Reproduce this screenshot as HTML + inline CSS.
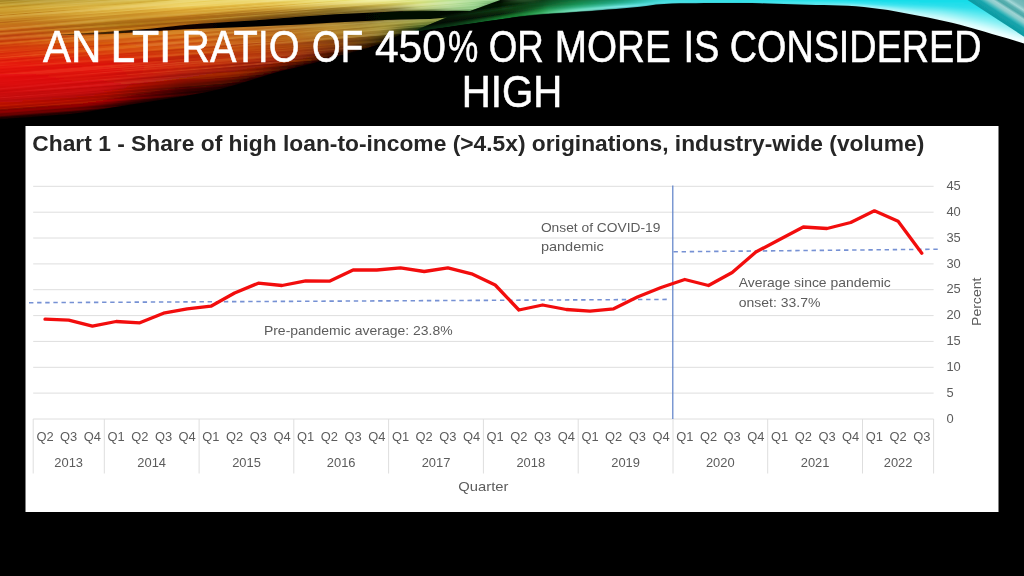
<!DOCTYPE html>
<html lang="en"><head><meta charset="utf-8"><title>An LTI ratio of 450% or more is considered high</title>
<style>
html,body{margin:0;padding:0;background:#000;}
body{width:1024px;height:576px;overflow:hidden;position:relative;font-family:"Liberation Sans",sans-serif;}
svg{position:absolute;left:0;top:0;display:block}
text{font-family:"Liberation Sans",sans-serif;}
.ax{font-size:12.9px;fill:#5c5c5c}
.ann{font-size:13px;fill:#5c5c5c}
</style></head><body>
<svg width="1024" height="576" viewBox="0 0 1024 576">
<!--BG-->
<rect x="0" y="0" width="1024" height="576" fill="#000"/>
<!--SWOOSH-->
<defs>
<linearGradient id="s0" gradientUnits="userSpaceOnUse" x1="0" y1="0" x2="0" y2="119.3"><stop offset="0.000" stop-color="#a88a28"/><stop offset="0.059" stop-color="#cea431"/><stop offset="0.118" stop-color="#cb962a"/><stop offset="0.176" stop-color="#c88422"/><stop offset="0.235" stop-color="#c86e1a"/><stop offset="0.294" stop-color="#ca5b14"/><stop offset="0.353" stop-color="#d04b10"/><stop offset="0.412" stop-color="#d93d10"/><stop offset="0.471" stop-color="#e03010"/><stop offset="0.529" stop-color="#e61e0a"/><stop offset="0.588" stop-color="#e61408"/><stop offset="0.647" stop-color="#e21008"/><stop offset="0.706" stop-color="#dc1008"/><stop offset="0.765" stop-color="#d21008"/><stop offset="0.824" stop-color="#c60f07"/><stop offset="0.882" stop-color="#b60c06"/><stop offset="0.941" stop-color="#8e0404"/><stop offset="1.000" stop-color="#100000"/></linearGradient>
<linearGradient id="s1" gradientUnits="userSpaceOnUse" x1="0" y1="0" x2="0" y2="119.3"><stop offset="0.000" stop-color="#a88a28"/><stop offset="0.059" stop-color="#cea431"/><stop offset="0.118" stop-color="#cb962a"/><stop offset="0.176" stop-color="#c88422"/><stop offset="0.235" stop-color="#c86e1a"/><stop offset="0.294" stop-color="#ca5b14"/><stop offset="0.353" stop-color="#d04b10"/><stop offset="0.412" stop-color="#d93d10"/><stop offset="0.471" stop-color="#e03010"/><stop offset="0.529" stop-color="#e61e0a"/><stop offset="0.588" stop-color="#e61408"/><stop offset="0.647" stop-color="#e21008"/><stop offset="0.706" stop-color="#dc1008"/><stop offset="0.765" stop-color="#d21008"/><stop offset="0.824" stop-color="#c60f07"/><stop offset="0.882" stop-color="#b60c06"/><stop offset="0.941" stop-color="#8e0404"/><stop offset="1.000" stop-color="#100000"/></linearGradient>
<linearGradient id="s2" gradientUnits="userSpaceOnUse" x1="0" y1="0" x2="0" y2="119.3"><stop offset="0.000" stop-color="#a88a28"/><stop offset="0.059" stop-color="#cea431"/><stop offset="0.118" stop-color="#cb962a"/><stop offset="0.176" stop-color="#c88422"/><stop offset="0.235" stop-color="#c86e1a"/><stop offset="0.294" stop-color="#ca5b14"/><stop offset="0.353" stop-color="#d04b10"/><stop offset="0.412" stop-color="#d93d10"/><stop offset="0.471" stop-color="#e03010"/><stop offset="0.529" stop-color="#e61e0a"/><stop offset="0.588" stop-color="#e61408"/><stop offset="0.647" stop-color="#e21008"/><stop offset="0.706" stop-color="#dc1008"/><stop offset="0.765" stop-color="#d21008"/><stop offset="0.824" stop-color="#c60f07"/><stop offset="0.882" stop-color="#b60c06"/><stop offset="0.941" stop-color="#8e0404"/><stop offset="1.000" stop-color="#100000"/></linearGradient>
<linearGradient id="s3" gradientUnits="userSpaceOnUse" x1="0" y1="0" x2="0" y2="119.3"><stop offset="0.000" stop-color="#a88a28"/><stop offset="0.059" stop-color="#cea431"/><stop offset="0.118" stop-color="#cb962a"/><stop offset="0.176" stop-color="#c88422"/><stop offset="0.235" stop-color="#c86e1a"/><stop offset="0.294" stop-color="#ca5b14"/><stop offset="0.353" stop-color="#d04b10"/><stop offset="0.412" stop-color="#d93d10"/><stop offset="0.471" stop-color="#e03010"/><stop offset="0.529" stop-color="#e61e0a"/><stop offset="0.588" stop-color="#e61408"/><stop offset="0.647" stop-color="#e21008"/><stop offset="0.706" stop-color="#dc1008"/><stop offset="0.765" stop-color="#d21008"/><stop offset="0.824" stop-color="#c60f07"/><stop offset="0.882" stop-color="#b60c06"/><stop offset="0.941" stop-color="#8e0404"/><stop offset="1.000" stop-color="#100000"/></linearGradient>
<linearGradient id="s4" gradientUnits="userSpaceOnUse" x1="0" y1="0" x2="0" y2="119.0"><stop offset="0.000" stop-color="#a88a28"/><stop offset="0.059" stop-color="#cea431"/><stop offset="0.118" stop-color="#cb962a"/><stop offset="0.176" stop-color="#c88422"/><stop offset="0.235" stop-color="#c86e1a"/><stop offset="0.294" stop-color="#ca5b14"/><stop offset="0.353" stop-color="#d04b10"/><stop offset="0.412" stop-color="#d93d10"/><stop offset="0.471" stop-color="#e03010"/><stop offset="0.529" stop-color="#e61e0a"/><stop offset="0.588" stop-color="#e61408"/><stop offset="0.647" stop-color="#e21008"/><stop offset="0.706" stop-color="#dc1008"/><stop offset="0.765" stop-color="#d21008"/><stop offset="0.824" stop-color="#c60f07"/><stop offset="0.882" stop-color="#b60c06"/><stop offset="0.941" stop-color="#8e0404"/><stop offset="1.000" stop-color="#100000"/></linearGradient>
<linearGradient id="s5" gradientUnits="userSpaceOnUse" x1="0" y1="0" x2="0" y2="118.4"><stop offset="0.000" stop-color="#a88a28"/><stop offset="0.059" stop-color="#cea431"/><stop offset="0.118" stop-color="#cb962a"/><stop offset="0.176" stop-color="#c88422"/><stop offset="0.235" stop-color="#c86e1a"/><stop offset="0.294" stop-color="#ca5b14"/><stop offset="0.353" stop-color="#d04b10"/><stop offset="0.412" stop-color="#d93d10"/><stop offset="0.471" stop-color="#e03010"/><stop offset="0.529" stop-color="#e61e0a"/><stop offset="0.588" stop-color="#e61408"/><stop offset="0.647" stop-color="#e21008"/><stop offset="0.706" stop-color="#dc1008"/><stop offset="0.765" stop-color="#d21008"/><stop offset="0.824" stop-color="#c60f07"/><stop offset="0.882" stop-color="#b60c06"/><stop offset="0.941" stop-color="#8e0404"/><stop offset="1.000" stop-color="#100000"/></linearGradient>
<linearGradient id="s6" gradientUnits="userSpaceOnUse" x1="0" y1="0" x2="0" y2="117.8"><stop offset="0.000" stop-color="#a88a28"/><stop offset="0.059" stop-color="#cea431"/><stop offset="0.118" stop-color="#cb962a"/><stop offset="0.176" stop-color="#c88422"/><stop offset="0.235" stop-color="#c86e1a"/><stop offset="0.294" stop-color="#ca5b14"/><stop offset="0.353" stop-color="#d04b10"/><stop offset="0.412" stop-color="#d93d10"/><stop offset="0.471" stop-color="#e03010"/><stop offset="0.529" stop-color="#e61e0a"/><stop offset="0.588" stop-color="#e61408"/><stop offset="0.647" stop-color="#e21008"/><stop offset="0.706" stop-color="#dc1008"/><stop offset="0.765" stop-color="#d21008"/><stop offset="0.824" stop-color="#c60f07"/><stop offset="0.882" stop-color="#b60c06"/><stop offset="0.941" stop-color="#8e0404"/><stop offset="1.000" stop-color="#100000"/></linearGradient>
<linearGradient id="s7" gradientUnits="userSpaceOnUse" x1="0" y1="0" x2="0" y2="117.2"><stop offset="0.000" stop-color="#ab8d2a"/><stop offset="0.059" stop-color="#d0a634"/><stop offset="0.118" stop-color="#cc982c"/><stop offset="0.176" stop-color="#c88523"/><stop offset="0.235" stop-color="#c66f1a"/><stop offset="0.294" stop-color="#ca5e14"/><stop offset="0.353" stop-color="#d04e10"/><stop offset="0.412" stop-color="#d94010"/><stop offset="0.471" stop-color="#df3210"/><stop offset="0.529" stop-color="#e5200b"/><stop offset="0.588" stop-color="#e61408"/><stop offset="0.647" stop-color="#e21008"/><stop offset="0.706" stop-color="#dc1008"/><stop offset="0.765" stop-color="#d21008"/><stop offset="0.824" stop-color="#c60f07"/><stop offset="0.882" stop-color="#b60c06"/><stop offset="0.941" stop-color="#8e0404"/><stop offset="1.000" stop-color="#120000"/></linearGradient>
<linearGradient id="s8" gradientUnits="userSpaceOnUse" x1="0" y1="0" x2="0" y2="116.6"><stop offset="0.000" stop-color="#ae902b"/><stop offset="0.059" stop-color="#d2a936"/><stop offset="0.118" stop-color="#ce9a2e"/><stop offset="0.176" stop-color="#c98724"/><stop offset="0.235" stop-color="#c5711a"/><stop offset="0.294" stop-color="#ca6014"/><stop offset="0.353" stop-color="#d15111"/><stop offset="0.412" stop-color="#d94210"/><stop offset="0.471" stop-color="#df3410"/><stop offset="0.529" stop-color="#e5220b"/><stop offset="0.588" stop-color="#e51508"/><stop offset="0.647" stop-color="#e21108"/><stop offset="0.706" stop-color="#dc1008"/><stop offset="0.765" stop-color="#d21008"/><stop offset="0.824" stop-color="#c60f07"/><stop offset="0.882" stop-color="#b60c06"/><stop offset="0.941" stop-color="#8e0404"/><stop offset="1.000" stop-color="#130000"/></linearGradient>
<linearGradient id="s9" gradientUnits="userSpaceOnUse" x1="0" y1="0" x2="0" y2="116.0"><stop offset="0.000" stop-color="#b1922d"/><stop offset="0.059" stop-color="#d3ab39"/><stop offset="0.118" stop-color="#cf9d30"/><stop offset="0.176" stop-color="#c98925"/><stop offset="0.235" stop-color="#c3721b"/><stop offset="0.294" stop-color="#c96315"/><stop offset="0.353" stop-color="#d15311"/><stop offset="0.412" stop-color="#d94410"/><stop offset="0.471" stop-color="#de3610"/><stop offset="0.529" stop-color="#e4230c"/><stop offset="0.588" stop-color="#e51608"/><stop offset="0.647" stop-color="#e21108"/><stop offset="0.706" stop-color="#dc1108"/><stop offset="0.765" stop-color="#d21008"/><stop offset="0.824" stop-color="#c50f07"/><stop offset="0.882" stop-color="#b60c06"/><stop offset="0.941" stop-color="#8e0404"/><stop offset="1.000" stop-color="#150000"/></linearGradient>
<linearGradient id="s10" gradientUnits="userSpaceOnUse" x1="0" y1="0" x2="0" y2="115.4"><stop offset="0.000" stop-color="#b4952e"/><stop offset="0.059" stop-color="#d5ad3b"/><stop offset="0.118" stop-color="#d19f32"/><stop offset="0.176" stop-color="#ca8b26"/><stop offset="0.235" stop-color="#c1741b"/><stop offset="0.294" stop-color="#c96615"/><stop offset="0.353" stop-color="#d25611"/><stop offset="0.412" stop-color="#d94710"/><stop offset="0.471" stop-color="#dd3810"/><stop offset="0.529" stop-color="#e4250c"/><stop offset="0.588" stop-color="#e51709"/><stop offset="0.647" stop-color="#e11208"/><stop offset="0.706" stop-color="#dc1108"/><stop offset="0.765" stop-color="#d21008"/><stop offset="0.824" stop-color="#c50e07"/><stop offset="0.882" stop-color="#b50b06"/><stop offset="0.941" stop-color="#8e0404"/><stop offset="1.000" stop-color="#160000"/></linearGradient>
<linearGradient id="s11" gradientUnits="userSpaceOnUse" x1="0" y1="0" x2="0" y2="114.8"><stop offset="0.000" stop-color="#b79830"/><stop offset="0.059" stop-color="#d7b03e"/><stop offset="0.118" stop-color="#d3a134"/><stop offset="0.176" stop-color="#ca8c27"/><stop offset="0.235" stop-color="#bf751b"/><stop offset="0.294" stop-color="#c96916"/><stop offset="0.353" stop-color="#d25911"/><stop offset="0.412" stop-color="#d94910"/><stop offset="0.471" stop-color="#dd3910"/><stop offset="0.529" stop-color="#e3270d"/><stop offset="0.588" stop-color="#e51809"/><stop offset="0.647" stop-color="#e11208"/><stop offset="0.706" stop-color="#db1108"/><stop offset="0.765" stop-color="#d21008"/><stop offset="0.824" stop-color="#c50e07"/><stop offset="0.882" stop-color="#b50b06"/><stop offset="0.941" stop-color="#8e0404"/><stop offset="1.000" stop-color="#180000"/></linearGradient>
<linearGradient id="s12" gradientUnits="userSpaceOnUse" x1="0" y1="0" x2="0" y2="114.0"><stop offset="0.000" stop-color="#ba9b31"/><stop offset="0.059" stop-color="#d8b240"/><stop offset="0.118" stop-color="#d4a435"/><stop offset="0.176" stop-color="#ca8e28"/><stop offset="0.235" stop-color="#be771b"/><stop offset="0.294" stop-color="#c96b16"/><stop offset="0.353" stop-color="#d35c12"/><stop offset="0.412" stop-color="#d94c10"/><stop offset="0.471" stop-color="#dc3b10"/><stop offset="0.529" stop-color="#e3280d"/><stop offset="0.588" stop-color="#e41809"/><stop offset="0.647" stop-color="#e11308"/><stop offset="0.706" stop-color="#db1108"/><stop offset="0.765" stop-color="#d11008"/><stop offset="0.824" stop-color="#c50e07"/><stop offset="0.882" stop-color="#b50b06"/><stop offset="0.941" stop-color="#8e0404"/><stop offset="1.000" stop-color="#190000"/></linearGradient>
<linearGradient id="s13" gradientUnits="userSpaceOnUse" x1="0" y1="0" x2="0" y2="113.2"><stop offset="0.000" stop-color="#bd9e33"/><stop offset="0.059" stop-color="#dab443"/><stop offset="0.118" stop-color="#d6a637"/><stop offset="0.176" stop-color="#cb9029"/><stop offset="0.235" stop-color="#bc781b"/><stop offset="0.294" stop-color="#c86e16"/><stop offset="0.353" stop-color="#d35f12"/><stop offset="0.412" stop-color="#d84e10"/><stop offset="0.471" stop-color="#dc3d10"/><stop offset="0.529" stop-color="#e22a0e"/><stop offset="0.588" stop-color="#e41909"/><stop offset="0.647" stop-color="#e11308"/><stop offset="0.706" stop-color="#db1208"/><stop offset="0.765" stop-color="#d11008"/><stop offset="0.824" stop-color="#c50e07"/><stop offset="0.882" stop-color="#b40b06"/><stop offset="0.941" stop-color="#8e0404"/><stop offset="1.000" stop-color="#1b0000"/></linearGradient>
<linearGradient id="s14" gradientUnits="userSpaceOnUse" x1="0" y1="0" x2="0" y2="112.3"><stop offset="0.000" stop-color="#c0a134"/><stop offset="0.059" stop-color="#dcb646"/><stop offset="0.118" stop-color="#d7a839"/><stop offset="0.176" stop-color="#cb922a"/><stop offset="0.235" stop-color="#ba7a1b"/><stop offset="0.294" stop-color="#c87117"/><stop offset="0.353" stop-color="#d46212"/><stop offset="0.412" stop-color="#d85010"/><stop offset="0.471" stop-color="#db3f10"/><stop offset="0.529" stop-color="#e12c0f"/><stop offset="0.588" stop-color="#e41a09"/><stop offset="0.647" stop-color="#e11408"/><stop offset="0.706" stop-color="#db1208"/><stop offset="0.765" stop-color="#d11008"/><stop offset="0.824" stop-color="#c40e07"/><stop offset="0.882" stop-color="#b40b06"/><stop offset="0.941" stop-color="#8e0404"/><stop offset="1.000" stop-color="#1c0000"/></linearGradient>
<linearGradient id="s15" gradientUnits="userSpaceOnUse" x1="0" y1="0" x2="0" y2="111.0"><stop offset="0.000" stop-color="#c3a336"/><stop offset="0.059" stop-color="#ddb948"/><stop offset="0.118" stop-color="#d9aa3b"/><stop offset="0.176" stop-color="#cc942b"/><stop offset="0.235" stop-color="#b97b1c"/><stop offset="0.294" stop-color="#c87417"/><stop offset="0.353" stop-color="#d46513"/><stop offset="0.412" stop-color="#d85310"/><stop offset="0.471" stop-color="#da4110"/><stop offset="0.529" stop-color="#e12d0f"/><stop offset="0.588" stop-color="#e41b09"/><stop offset="0.647" stop-color="#e11408"/><stop offset="0.706" stop-color="#db1208"/><stop offset="0.765" stop-color="#d11008"/><stop offset="0.824" stop-color="#c40e07"/><stop offset="0.882" stop-color="#b40b06"/><stop offset="0.941" stop-color="#8e0404"/><stop offset="1.000" stop-color="#1e0000"/></linearGradient>
<linearGradient id="s16" gradientUnits="userSpaceOnUse" x1="0" y1="0" x2="0" y2="109.6"><stop offset="0.000" stop-color="#c6a637"/><stop offset="0.059" stop-color="#dfbb4b"/><stop offset="0.118" stop-color="#daad3d"/><stop offset="0.176" stop-color="#cc952c"/><stop offset="0.235" stop-color="#b77d1c"/><stop offset="0.294" stop-color="#c87618"/><stop offset="0.353" stop-color="#d56713"/><stop offset="0.412" stop-color="#d85510"/><stop offset="0.471" stop-color="#da4310"/><stop offset="0.529" stop-color="#e02f10"/><stop offset="0.588" stop-color="#e31c09"/><stop offset="0.647" stop-color="#e11508"/><stop offset="0.706" stop-color="#da1208"/><stop offset="0.765" stop-color="#d11008"/><stop offset="0.824" stop-color="#c40e07"/><stop offset="0.882" stop-color="#b40b06"/><stop offset="0.941" stop-color="#8e0404"/><stop offset="1.000" stop-color="#1f0000"/></linearGradient>
<linearGradient id="s17" gradientUnits="userSpaceOnUse" x1="0" y1="0" x2="0" y2="108.3"><stop offset="0.000" stop-color="#c9aa3a"/><stop offset="0.059" stop-color="#e0bd4d"/><stop offset="0.118" stop-color="#dbae3e"/><stop offset="0.176" stop-color="#cc962c"/><stop offset="0.235" stop-color="#b57d1b"/><stop offset="0.294" stop-color="#c77818"/><stop offset="0.353" stop-color="#d56a13"/><stop offset="0.412" stop-color="#d85710"/><stop offset="0.471" stop-color="#d94510"/><stop offset="0.529" stop-color="#df3110"/><stop offset="0.588" stop-color="#e21d09"/><stop offset="0.647" stop-color="#e01608"/><stop offset="0.706" stop-color="#da1408"/><stop offset="0.765" stop-color="#d01108"/><stop offset="0.824" stop-color="#c20e07"/><stop offset="0.882" stop-color="#b10b06"/><stop offset="0.941" stop-color="#8b0404"/><stop offset="1.000" stop-color="#200000"/></linearGradient>
<linearGradient id="s18" gradientUnits="userSpaceOnUse" x1="0" y1="0" x2="0" y2="107.0"><stop offset="0.000" stop-color="#ccae3e"/><stop offset="0.059" stop-color="#e2bf4e"/><stop offset="0.118" stop-color="#dbae3d"/><stop offset="0.176" stop-color="#cb942b"/><stop offset="0.235" stop-color="#b47b1a"/><stop offset="0.294" stop-color="#c77718"/><stop offset="0.353" stop-color="#d56a14"/><stop offset="0.412" stop-color="#d85911"/><stop offset="0.471" stop-color="#d84710"/><stop offset="0.529" stop-color="#de3310"/><stop offset="0.588" stop-color="#e0200a"/><stop offset="0.647" stop-color="#de1808"/><stop offset="0.706" stop-color="#d91608"/><stop offset="0.765" stop-color="#cd1208"/><stop offset="0.824" stop-color="#bd0e07"/><stop offset="0.882" stop-color="#aa0b05"/><stop offset="0.941" stop-color="#840403"/><stop offset="1.000" stop-color="#1f0000"/></linearGradient>
<linearGradient id="s19" gradientUnits="userSpaceOnUse" x1="0" y1="0" x2="0" y2="105.7"><stop offset="0.000" stop-color="#d0b242"/><stop offset="0.059" stop-color="#e3c150"/><stop offset="0.118" stop-color="#dcae3d"/><stop offset="0.176" stop-color="#cb932a"/><stop offset="0.235" stop-color="#b37919"/><stop offset="0.294" stop-color="#c67618"/><stop offset="0.353" stop-color="#d46b14"/><stop offset="0.412" stop-color="#d75a11"/><stop offset="0.471" stop-color="#d74910"/><stop offset="0.529" stop-color="#dc3610"/><stop offset="0.588" stop-color="#de230a"/><stop offset="0.647" stop-color="#db1a08"/><stop offset="0.706" stop-color="#d71908"/><stop offset="0.765" stop-color="#ca1408"/><stop offset="0.824" stop-color="#b70f07"/><stop offset="0.882" stop-color="#a30a05"/><stop offset="0.941" stop-color="#7d0403"/><stop offset="1.000" stop-color="#1e0000"/></linearGradient>
<linearGradient id="s20" gradientUnits="userSpaceOnUse" x1="0" y1="0" x2="0" y2="104.4"><stop offset="0.000" stop-color="#d3b646"/><stop offset="0.059" stop-color="#e4c352"/><stop offset="0.118" stop-color="#dcad3c"/><stop offset="0.176" stop-color="#ca9229"/><stop offset="0.235" stop-color="#b27718"/><stop offset="0.294" stop-color="#c67517"/><stop offset="0.353" stop-color="#d46c15"/><stop offset="0.412" stop-color="#d75c12"/><stop offset="0.471" stop-color="#d74b11"/><stop offset="0.529" stop-color="#da380f"/><stop offset="0.588" stop-color="#db260a"/><stop offset="0.647" stop-color="#d91c08"/><stop offset="0.706" stop-color="#d61c08"/><stop offset="0.765" stop-color="#c71508"/><stop offset="0.824" stop-color="#b20f06"/><stop offset="0.882" stop-color="#9c0a05"/><stop offset="0.941" stop-color="#760403"/><stop offset="1.000" stop-color="#1d0000"/></linearGradient>
<linearGradient id="s21" gradientUnits="userSpaceOnUse" x1="0" y1="0" x2="0" y2="103.1"><stop offset="0.000" stop-color="#d6ba4a"/><stop offset="0.059" stop-color="#e6c453"/><stop offset="0.118" stop-color="#dcad3c"/><stop offset="0.176" stop-color="#ca9029"/><stop offset="0.235" stop-color="#b17517"/><stop offset="0.294" stop-color="#c57417"/><stop offset="0.353" stop-color="#d46c15"/><stop offset="0.412" stop-color="#d75e12"/><stop offset="0.471" stop-color="#d64d11"/><stop offset="0.529" stop-color="#d83b0f"/><stop offset="0.588" stop-color="#d9280a"/><stop offset="0.647" stop-color="#d61e08"/><stop offset="0.706" stop-color="#d51f08"/><stop offset="0.765" stop-color="#c31608"/><stop offset="0.824" stop-color="#ad0f06"/><stop offset="0.882" stop-color="#950a04"/><stop offset="0.941" stop-color="#6f0302"/><stop offset="1.000" stop-color="#1c0000"/></linearGradient>
<linearGradient id="s22" gradientUnits="userSpaceOnUse" x1="0" y1="0" x2="0" y2="101.9"><stop offset="0.000" stop-color="#d9be4e"/><stop offset="0.059" stop-color="#e7c655"/><stop offset="0.118" stop-color="#ddad3b"/><stop offset="0.176" stop-color="#c98f28"/><stop offset="0.235" stop-color="#b07216"/><stop offset="0.294" stop-color="#c47317"/><stop offset="0.353" stop-color="#d46d16"/><stop offset="0.412" stop-color="#d75f13"/><stop offset="0.471" stop-color="#d54f11"/><stop offset="0.529" stop-color="#d73d0f"/><stop offset="0.588" stop-color="#d62b0a"/><stop offset="0.647" stop-color="#d42008"/><stop offset="0.706" stop-color="#d42208"/><stop offset="0.765" stop-color="#c01808"/><stop offset="0.824" stop-color="#a70f06"/><stop offset="0.882" stop-color="#8e0a04"/><stop offset="0.941" stop-color="#680302"/><stop offset="1.000" stop-color="#1c0000"/></linearGradient>
<linearGradient id="s23" gradientUnits="userSpaceOnUse" x1="0" y1="0" x2="0" y2="100.7"><stop offset="0.000" stop-color="#dcc252"/><stop offset="0.059" stop-color="#e8c856"/><stop offset="0.118" stop-color="#ddad3b"/><stop offset="0.176" stop-color="#c88d27"/><stop offset="0.235" stop-color="#ae7015"/><stop offset="0.294" stop-color="#c47217"/><stop offset="0.353" stop-color="#d36e16"/><stop offset="0.412" stop-color="#d66114"/><stop offset="0.471" stop-color="#d55111"/><stop offset="0.529" stop-color="#d53f0f"/><stop offset="0.588" stop-color="#d42e0b"/><stop offset="0.647" stop-color="#d12208"/><stop offset="0.706" stop-color="#d32408"/><stop offset="0.765" stop-color="#bd1908"/><stop offset="0.824" stop-color="#a21006"/><stop offset="0.882" stop-color="#870903"/><stop offset="0.941" stop-color="#610301"/><stop offset="1.000" stop-color="#1b0000"/></linearGradient>
<linearGradient id="s24" gradientUnits="userSpaceOnUse" x1="0" y1="0" x2="0" y2="99.5"><stop offset="0.000" stop-color="#e0c656"/><stop offset="0.059" stop-color="#eaca58"/><stop offset="0.118" stop-color="#ddad3a"/><stop offset="0.176" stop-color="#c88c26"/><stop offset="0.235" stop-color="#ad6e14"/><stop offset="0.294" stop-color="#c37117"/><stop offset="0.353" stop-color="#d36e17"/><stop offset="0.412" stop-color="#d66214"/><stop offset="0.471" stop-color="#d45311"/><stop offset="0.529" stop-color="#d3420f"/><stop offset="0.588" stop-color="#d2310b"/><stop offset="0.647" stop-color="#cf2408"/><stop offset="0.706" stop-color="#d22708"/><stop offset="0.765" stop-color="#ba1a08"/><stop offset="0.824" stop-color="#9d1006"/><stop offset="0.882" stop-color="#800903"/><stop offset="0.941" stop-color="#5a0301"/><stop offset="1.000" stop-color="#1a0000"/></linearGradient>
<linearGradient id="s25" gradientUnits="userSpaceOnUse" x1="0" y1="0" x2="0" y2="98.2"><stop offset="0.000" stop-color="#e3ca5a"/><stop offset="0.059" stop-color="#ebcc59"/><stop offset="0.118" stop-color="#dead3a"/><stop offset="0.176" stop-color="#c78a25"/><stop offset="0.235" stop-color="#ac6c12"/><stop offset="0.294" stop-color="#c37017"/><stop offset="0.353" stop-color="#d36f17"/><stop offset="0.412" stop-color="#d66415"/><stop offset="0.471" stop-color="#d35412"/><stop offset="0.529" stop-color="#d1440f"/><stop offset="0.588" stop-color="#cf340b"/><stop offset="0.647" stop-color="#cc2608"/><stop offset="0.706" stop-color="#d02a08"/><stop offset="0.765" stop-color="#b71c08"/><stop offset="0.824" stop-color="#981006"/><stop offset="0.882" stop-color="#790903"/><stop offset="0.941" stop-color="#530301"/><stop offset="1.000" stop-color="#190000"/></linearGradient>
<linearGradient id="s26" gradientUnits="userSpaceOnUse" x1="0" y1="0" x2="0" y2="96.9"><stop offset="0.000" stop-color="#e6ce5e"/><stop offset="0.059" stop-color="#ecce5b"/><stop offset="0.118" stop-color="#deac3a"/><stop offset="0.176" stop-color="#c68924"/><stop offset="0.235" stop-color="#ab6a11"/><stop offset="0.294" stop-color="#c26f17"/><stop offset="0.353" stop-color="#d37018"/><stop offset="0.412" stop-color="#d66615"/><stop offset="0.471" stop-color="#d25612"/><stop offset="0.529" stop-color="#d0470f"/><stop offset="0.588" stop-color="#cd370b"/><stop offset="0.647" stop-color="#ca2808"/><stop offset="0.706" stop-color="#cf2d08"/><stop offset="0.765" stop-color="#b41d08"/><stop offset="0.824" stop-color="#921006"/><stop offset="0.882" stop-color="#720802"/><stop offset="0.941" stop-color="#4c0300"/><stop offset="1.000" stop-color="#180000"/></linearGradient>
<linearGradient id="s27" gradientUnits="userSpaceOnUse" x1="0" y1="0" x2="0" y2="95.5"><stop offset="0.000" stop-color="#e8d161"/><stop offset="0.059" stop-color="#edcf5c"/><stop offset="0.118" stop-color="#deac39"/><stop offset="0.176" stop-color="#c58724"/><stop offset="0.235" stop-color="#a96811"/><stop offset="0.294" stop-color="#c06e17"/><stop offset="0.353" stop-color="#d27019"/><stop offset="0.412" stop-color="#d56716"/><stop offset="0.471" stop-color="#d15812"/><stop offset="0.529" stop-color="#ce490f"/><stop offset="0.588" stop-color="#cb3a0c"/><stop offset="0.647" stop-color="#c82a08"/><stop offset="0.706" stop-color="#cd2f08"/><stop offset="0.765" stop-color="#b21f08"/><stop offset="0.824" stop-color="#901106"/><stop offset="0.882" stop-color="#6f0902"/><stop offset="0.941" stop-color="#480300"/><stop offset="1.000" stop-color="#180000"/></linearGradient>
<linearGradient id="s28" gradientUnits="userSpaceOnUse" x1="0" y1="0" x2="0" y2="94.0"><stop offset="0.000" stop-color="#e9d264"/><stop offset="0.059" stop-color="#ecce5c"/><stop offset="0.118" stop-color="#ddab39"/><stop offset="0.176" stop-color="#c38624"/><stop offset="0.235" stop-color="#a46611"/><stop offset="0.294" stop-color="#bd6e17"/><stop offset="0.353" stop-color="#cf711a"/><stop offset="0.412" stop-color="#d36918"/><stop offset="0.471" stop-color="#d05b13"/><stop offset="0.529" stop-color="#cc4c0f"/><stop offset="0.588" stop-color="#c93c0c"/><stop offset="0.647" stop-color="#c62d09"/><stop offset="0.706" stop-color="#cb3008"/><stop offset="0.765" stop-color="#b22108"/><stop offset="0.824" stop-color="#921406"/><stop offset="0.882" stop-color="#720b03"/><stop offset="0.941" stop-color="#4b0500"/><stop offset="1.000" stop-color="#190000"/></linearGradient>
<linearGradient id="s29" gradientUnits="userSpaceOnUse" x1="0" y1="0" x2="0" y2="92.5"><stop offset="0.000" stop-color="#ead367"/><stop offset="0.059" stop-color="#ecce5b"/><stop offset="0.118" stop-color="#dbab39"/><stop offset="0.176" stop-color="#c08524"/><stop offset="0.235" stop-color="#a06411"/><stop offset="0.294" stop-color="#b96d18"/><stop offset="0.353" stop-color="#cd721c"/><stop offset="0.412" stop-color="#d16b1a"/><stop offset="0.471" stop-color="#ce5d15"/><stop offset="0.529" stop-color="#cb4e10"/><stop offset="0.588" stop-color="#c83f0d"/><stop offset="0.647" stop-color="#c4300a"/><stop offset="0.706" stop-color="#c93209"/><stop offset="0.765" stop-color="#b12208"/><stop offset="0.824" stop-color="#951606"/><stop offset="0.882" stop-color="#750d03"/><stop offset="0.941" stop-color="#4d0601"/><stop offset="1.000" stop-color="#1a0000"/></linearGradient>
<linearGradient id="s30" gradientUnits="userSpaceOnUse" x1="0" y1="0" x2="0" y2="90.8"><stop offset="0.000" stop-color="#ead56a"/><stop offset="0.059" stop-color="#eccd5b"/><stop offset="0.118" stop-color="#daaa39"/><stop offset="0.176" stop-color="#be8424"/><stop offset="0.235" stop-color="#9c6211"/><stop offset="0.294" stop-color="#b66d19"/><stop offset="0.353" stop-color="#ca731e"/><stop offset="0.412" stop-color="#cf6d1c"/><stop offset="0.471" stop-color="#cd5f16"/><stop offset="0.529" stop-color="#ca5111"/><stop offset="0.588" stop-color="#c6420d"/><stop offset="0.647" stop-color="#c3330a"/><stop offset="0.706" stop-color="#c63309"/><stop offset="0.765" stop-color="#b12408"/><stop offset="0.824" stop-color="#971906"/><stop offset="0.882" stop-color="#780f03"/><stop offset="0.941" stop-color="#500701"/><stop offset="1.000" stop-color="#1a0000"/></linearGradient>
<linearGradient id="s31" gradientUnits="userSpaceOnUse" x1="0" y1="0" x2="0" y2="89.0"><stop offset="0.000" stop-color="#ebd66c"/><stop offset="0.059" stop-color="#ebcd5b"/><stop offset="0.118" stop-color="#d9a939"/><stop offset="0.176" stop-color="#bb8324"/><stop offset="0.235" stop-color="#986011"/><stop offset="0.294" stop-color="#b26c1a"/><stop offset="0.353" stop-color="#c8741f"/><stop offset="0.412" stop-color="#cd6f1e"/><stop offset="0.471" stop-color="#cb6217"/><stop offset="0.529" stop-color="#c85411"/><stop offset="0.588" stop-color="#c5450e"/><stop offset="0.647" stop-color="#c1360b"/><stop offset="0.706" stop-color="#c43409"/><stop offset="0.765" stop-color="#b12608"/><stop offset="0.824" stop-color="#9a1b06"/><stop offset="0.882" stop-color="#7b1104"/><stop offset="0.941" stop-color="#520801"/><stop offset="1.000" stop-color="#1b0000"/></linearGradient>
<linearGradient id="s32" gradientUnits="userSpaceOnUse" x1="0" y1="0" x2="0" y2="86.9"><stop offset="0.000" stop-color="#ecd86f"/><stop offset="0.059" stop-color="#ebcc5b"/><stop offset="0.118" stop-color="#d8a839"/><stop offset="0.176" stop-color="#b98224"/><stop offset="0.235" stop-color="#945e11"/><stop offset="0.294" stop-color="#af6b1a"/><stop offset="0.353" stop-color="#c57521"/><stop offset="0.412" stop-color="#cb7120"/><stop offset="0.471" stop-color="#c96418"/><stop offset="0.529" stop-color="#c75612"/><stop offset="0.588" stop-color="#c3480f"/><stop offset="0.647" stop-color="#c0390b"/><stop offset="0.706" stop-color="#c13609"/><stop offset="0.765" stop-color="#b12808"/><stop offset="0.824" stop-color="#9c1d07"/><stop offset="0.882" stop-color="#7f1404"/><stop offset="0.941" stop-color="#550a02"/><stop offset="1.000" stop-color="#1c0000"/></linearGradient>
<linearGradient id="s33" gradientUnits="userSpaceOnUse" x1="0" y1="0" x2="0" y2="84.7"><stop offset="0.000" stop-color="#edd972"/><stop offset="0.059" stop-color="#eacc5a"/><stop offset="0.118" stop-color="#d7a839"/><stop offset="0.176" stop-color="#b78024"/><stop offset="0.235" stop-color="#905c11"/><stop offset="0.294" stop-color="#ab6b1b"/><stop offset="0.353" stop-color="#c27623"/><stop offset="0.412" stop-color="#c97322"/><stop offset="0.471" stop-color="#c86619"/><stop offset="0.529" stop-color="#c55913"/><stop offset="0.588" stop-color="#c24a0f"/><stop offset="0.647" stop-color="#be3c0c"/><stop offset="0.706" stop-color="#bf370a"/><stop offset="0.765" stop-color="#b02a08"/><stop offset="0.824" stop-color="#9e2007"/><stop offset="0.882" stop-color="#821605"/><stop offset="0.941" stop-color="#570b02"/><stop offset="1.000" stop-color="#1d0000"/></linearGradient>
<linearGradient id="s34" gradientUnits="userSpaceOnUse" x1="0" y1="0" x2="0" y2="82.2"><stop offset="0.000" stop-color="#edda75"/><stop offset="0.059" stop-color="#eacb5a"/><stop offset="0.118" stop-color="#d5a739"/><stop offset="0.176" stop-color="#b47f24"/><stop offset="0.235" stop-color="#8c5a11"/><stop offset="0.294" stop-color="#a76a1c"/><stop offset="0.353" stop-color="#c07724"/><stop offset="0.412" stop-color="#c77524"/><stop offset="0.471" stop-color="#c6681a"/><stop offset="0.529" stop-color="#c45b13"/><stop offset="0.588" stop-color="#c04d10"/><stop offset="0.647" stop-color="#bd3f0c"/><stop offset="0.706" stop-color="#bc390a"/><stop offset="0.765" stop-color="#b02b08"/><stop offset="0.824" stop-color="#a12207"/><stop offset="0.882" stop-color="#851805"/><stop offset="0.941" stop-color="#5a0c02"/><stop offset="1.000" stop-color="#1d0000"/></linearGradient>
<linearGradient id="s35" gradientUnits="userSpaceOnUse" x1="0" y1="0" x2="0" y2="79.7"><stop offset="0.000" stop-color="#eedc78"/><stop offset="0.059" stop-color="#eaca5a"/><stop offset="0.118" stop-color="#d4a639"/><stop offset="0.176" stop-color="#b27e24"/><stop offset="0.235" stop-color="#885911"/><stop offset="0.294" stop-color="#a46a1c"/><stop offset="0.353" stop-color="#bd7826"/><stop offset="0.412" stop-color="#c67726"/><stop offset="0.471" stop-color="#c56b1b"/><stop offset="0.529" stop-color="#c25e14"/><stop offset="0.588" stop-color="#bf5011"/><stop offset="0.647" stop-color="#bb420d"/><stop offset="0.706" stop-color="#ba3a0a"/><stop offset="0.765" stop-color="#b02d08"/><stop offset="0.824" stop-color="#a32407"/><stop offset="0.882" stop-color="#881a05"/><stop offset="0.941" stop-color="#5c0d03"/><stop offset="1.000" stop-color="#1e0000"/></linearGradient>
<linearGradient id="s36" gradientUnits="userSpaceOnUse" x1="0" y1="0" x2="0" y2="77.2"><stop offset="0.000" stop-color="#efdd7b"/><stop offset="0.059" stop-color="#e9ca59"/><stop offset="0.118" stop-color="#d3a539"/><stop offset="0.176" stop-color="#af7d24"/><stop offset="0.235" stop-color="#835711"/><stop offset="0.294" stop-color="#a0691d"/><stop offset="0.353" stop-color="#bb7928"/><stop offset="0.412" stop-color="#c47828"/><stop offset="0.471" stop-color="#c36d1c"/><stop offset="0.529" stop-color="#c16115"/><stop offset="0.588" stop-color="#bd5311"/><stop offset="0.647" stop-color="#ba450e"/><stop offset="0.706" stop-color="#b73b0a"/><stop offset="0.765" stop-color="#af2f08"/><stop offset="0.824" stop-color="#a62708"/><stop offset="0.882" stop-color="#8b1c06"/><stop offset="0.941" stop-color="#5f0e03"/><stop offset="1.000" stop-color="#1f0000"/></linearGradient>
<linearGradient id="s37" gradientUnits="userSpaceOnUse" x1="0" y1="0" x2="0" y2="74.6"><stop offset="0.000" stop-color="#efdf7e"/><stop offset="0.059" stop-color="#e9c959"/><stop offset="0.118" stop-color="#d2a539"/><stop offset="0.176" stop-color="#ad7c24"/><stop offset="0.235" stop-color="#7f5511"/><stop offset="0.294" stop-color="#9d691e"/><stop offset="0.353" stop-color="#b87a2a"/><stop offset="0.412" stop-color="#c27a2a"/><stop offset="0.471" stop-color="#c16f1d"/><stop offset="0.529" stop-color="#bf6316"/><stop offset="0.588" stop-color="#bc5612"/><stop offset="0.647" stop-color="#b8480e"/><stop offset="0.706" stop-color="#b53d0b"/><stop offset="0.765" stop-color="#af3108"/><stop offset="0.824" stop-color="#a82908"/><stop offset="0.882" stop-color="#8f1e06"/><stop offset="0.941" stop-color="#611003"/><stop offset="1.000" stop-color="#1f0000"/></linearGradient>
<linearGradient id="s38" gradientUnits="userSpaceOnUse" x1="0" y1="0" x2="0" y2="72.2"><stop offset="0.000" stop-color="#f0e080"/><stop offset="0.059" stop-color="#e8c959"/><stop offset="0.118" stop-color="#d1a439"/><stop offset="0.176" stop-color="#aa7b24"/><stop offset="0.235" stop-color="#7c5312"/><stop offset="0.294" stop-color="#99671e"/><stop offset="0.353" stop-color="#b57b2b"/><stop offset="0.412" stop-color="#c07c2b"/><stop offset="0.471" stop-color="#c0721f"/><stop offset="0.529" stop-color="#be6617"/><stop offset="0.588" stop-color="#ba5913"/><stop offset="0.647" stop-color="#b64c0f"/><stop offset="0.706" stop-color="#b23e0b"/><stop offset="0.765" stop-color="#ae3308"/><stop offset="0.824" stop-color="#a92b08"/><stop offset="0.882" stop-color="#912006"/><stop offset="0.941" stop-color="#631103"/><stop offset="1.000" stop-color="#200000"/></linearGradient>
<linearGradient id="s39" gradientUnits="userSpaceOnUse" x1="0" y1="0" x2="0" y2="70.2"><stop offset="0.000" stop-color="#f0e181"/><stop offset="0.059" stop-color="#e8cb5c"/><stop offset="0.118" stop-color="#d0a53b"/><stop offset="0.176" stop-color="#a77a25"/><stop offset="0.235" stop-color="#7a5413"/><stop offset="0.294" stop-color="#91621c"/><stop offset="0.353" stop-color="#ae7729"/><stop offset="0.412" stop-color="#bd7d2c"/><stop offset="0.471" stop-color="#bf7622"/><stop offset="0.529" stop-color="#bd6b1a"/><stop offset="0.588" stop-color="#b95e15"/><stop offset="0.647" stop-color="#b45011"/><stop offset="0.706" stop-color="#af420c"/><stop offset="0.765" stop-color="#aa3509"/><stop offset="0.824" stop-color="#a42d09"/><stop offset="0.882" stop-color="#8c2107"/><stop offset="0.941" stop-color="#601103"/><stop offset="1.000" stop-color="#1e0000"/></linearGradient>
<linearGradient id="s40" gradientUnits="userSpaceOnUse" x1="0" y1="0" x2="0" y2="68.4"><stop offset="0.000" stop-color="#f0e282"/><stop offset="0.059" stop-color="#e8cc5e"/><stop offset="0.118" stop-color="#cfa73e"/><stop offset="0.176" stop-color="#a37925"/><stop offset="0.235" stop-color="#795414"/><stop offset="0.294" stop-color="#8a5d1b"/><stop offset="0.353" stop-color="#a87327"/><stop offset="0.412" stop-color="#ba7e2c"/><stop offset="0.471" stop-color="#bf7b25"/><stop offset="0.529" stop-color="#bd711e"/><stop offset="0.588" stop-color="#b76318"/><stop offset="0.647" stop-color="#b25413"/><stop offset="0.706" stop-color="#ac450e"/><stop offset="0.765" stop-color="#a6380a"/><stop offset="0.824" stop-color="#9e2e09"/><stop offset="0.882" stop-color="#882207"/><stop offset="0.941" stop-color="#5d1103"/><stop offset="1.000" stop-color="#1b0000"/></linearGradient>
<linearGradient id="s41" gradientUnits="userSpaceOnUse" x1="0" y1="0" x2="0" y2="66.5"><stop offset="0.000" stop-color="#f0e383"/><stop offset="0.059" stop-color="#e7cd61"/><stop offset="0.118" stop-color="#cea840"/><stop offset="0.176" stop-color="#9f7825"/><stop offset="0.235" stop-color="#785515"/><stop offset="0.294" stop-color="#825819"/><stop offset="0.353" stop-color="#a17026"/><stop offset="0.412" stop-color="#b77f2c"/><stop offset="0.471" stop-color="#be8028"/><stop offset="0.529" stop-color="#bc7621"/><stop offset="0.588" stop-color="#b5681b"/><stop offset="0.647" stop-color="#af5815"/><stop offset="0.706" stop-color="#a9490f"/><stop offset="0.765" stop-color="#a23a0c"/><stop offset="0.824" stop-color="#99300a"/><stop offset="0.882" stop-color="#832307"/><stop offset="0.941" stop-color="#5a1202"/><stop offset="1.000" stop-color="#190000"/></linearGradient>
<linearGradient id="s42" gradientUnits="userSpaceOnUse" x1="0" y1="0" x2="0" y2="64.4"><stop offset="0.000" stop-color="#f0e484"/><stop offset="0.059" stop-color="#e7cf63"/><stop offset="0.118" stop-color="#cdaa42"/><stop offset="0.176" stop-color="#9c7826"/><stop offset="0.235" stop-color="#775516"/><stop offset="0.294" stop-color="#7b5317"/><stop offset="0.353" stop-color="#9a6c24"/><stop offset="0.412" stop-color="#b4802d"/><stop offset="0.471" stop-color="#be842b"/><stop offset="0.529" stop-color="#bb7b25"/><stop offset="0.588" stop-color="#b46d1e"/><stop offset="0.647" stop-color="#ad5c17"/><stop offset="0.706" stop-color="#a64c11"/><stop offset="0.765" stop-color="#9e3d0d"/><stop offset="0.824" stop-color="#93310a"/><stop offset="0.882" stop-color="#7e2407"/><stop offset="0.941" stop-color="#571202"/><stop offset="1.000" stop-color="#170000"/></linearGradient>
<linearGradient id="s43" gradientUnits="userSpaceOnUse" x1="0" y1="0" x2="0" y2="62.3"><stop offset="0.000" stop-color="#f0e585"/><stop offset="0.059" stop-color="#e6d066"/><stop offset="0.118" stop-color="#ccab45"/><stop offset="0.176" stop-color="#987726"/><stop offset="0.235" stop-color="#765617"/><stop offset="0.294" stop-color="#734e15"/><stop offset="0.353" stop-color="#936822"/><stop offset="0.412" stop-color="#b1812d"/><stop offset="0.471" stop-color="#bd892e"/><stop offset="0.529" stop-color="#bb8128"/><stop offset="0.588" stop-color="#b27220"/><stop offset="0.647" stop-color="#ab6119"/><stop offset="0.706" stop-color="#a35012"/><stop offset="0.765" stop-color="#9a400e"/><stop offset="0.824" stop-color="#8e330b"/><stop offset="0.882" stop-color="#7a2507"/><stop offset="0.941" stop-color="#541202"/><stop offset="1.000" stop-color="#150000"/></linearGradient>
<linearGradient id="s44" gradientUnits="userSpaceOnUse" x1="0" y1="0" x2="0" y2="60.1"><stop offset="0.000" stop-color="#f0e787"/><stop offset="0.059" stop-color="#e6d268"/><stop offset="0.118" stop-color="#cbac47"/><stop offset="0.176" stop-color="#947626"/><stop offset="0.235" stop-color="#745718"/><stop offset="0.294" stop-color="#6c4913"/><stop offset="0.353" stop-color="#8d6520"/><stop offset="0.412" stop-color="#ae822d"/><stop offset="0.471" stop-color="#bc8d31"/><stop offset="0.529" stop-color="#ba862c"/><stop offset="0.588" stop-color="#b17723"/><stop offset="0.647" stop-color="#a8651b"/><stop offset="0.706" stop-color="#a05314"/><stop offset="0.765" stop-color="#96420f"/><stop offset="0.824" stop-color="#88340b"/><stop offset="0.882" stop-color="#752607"/><stop offset="0.941" stop-color="#511301"/><stop offset="1.000" stop-color="#130000"/></linearGradient>
<linearGradient id="s45" gradientUnits="userSpaceOnUse" x1="0" y1="0" x2="0" y2="57.8"><stop offset="0.000" stop-color="#f0e888"/><stop offset="0.059" stop-color="#e5d36b"/><stop offset="0.118" stop-color="#caae49"/><stop offset="0.176" stop-color="#917526"/><stop offset="0.235" stop-color="#735719"/><stop offset="0.294" stop-color="#654412"/><stop offset="0.353" stop-color="#86611f"/><stop offset="0.412" stop-color="#ac832e"/><stop offset="0.471" stop-color="#bc9235"/><stop offset="0.529" stop-color="#b98b30"/><stop offset="0.588" stop-color="#af7c26"/><stop offset="0.647" stop-color="#a6691d"/><stop offset="0.706" stop-color="#9d5715"/><stop offset="0.765" stop-color="#924510"/><stop offset="0.824" stop-color="#83360c"/><stop offset="0.882" stop-color="#702708"/><stop offset="0.941" stop-color="#4e1301"/><stop offset="1.000" stop-color="#110000"/></linearGradient>
<linearGradient id="s46" gradientUnits="userSpaceOnUse" x1="0" y1="0" x2="0" y2="55.6"><stop offset="0.000" stop-color="#f0e98a"/><stop offset="0.059" stop-color="#e6d56e"/><stop offset="0.118" stop-color="#cbb14d"/><stop offset="0.176" stop-color="#93792a"/><stop offset="0.235" stop-color="#73591a"/><stop offset="0.294" stop-color="#604211"/><stop offset="0.353" stop-color="#7d5b1c"/><stop offset="0.412" stop-color="#a27d2b"/><stop offset="0.471" stop-color="#b58f34"/><stop offset="0.529" stop-color="#b78e32"/><stop offset="0.588" stop-color="#af812a"/><stop offset="0.647" stop-color="#a77021"/><stop offset="0.706" stop-color="#9c5e19"/><stop offset="0.765" stop-color="#904b13"/><stop offset="0.824" stop-color="#7f3a0d"/><stop offset="0.882" stop-color="#6c2a08"/><stop offset="0.941" stop-color="#4a1501"/><stop offset="1.000" stop-color="#0f0000"/></linearGradient>
<linearGradient id="s47" gradientUnits="userSpaceOnUse" x1="0" y1="0" x2="0" y2="53.4"><stop offset="0.000" stop-color="#f0ea8c"/><stop offset="0.059" stop-color="#e6d872"/><stop offset="0.118" stop-color="#cdb551"/><stop offset="0.176" stop-color="#98802f"/><stop offset="0.235" stop-color="#735a1c"/><stop offset="0.294" stop-color="#5e4211"/><stop offset="0.353" stop-color="#725419"/><stop offset="0.412" stop-color="#957427"/><stop offset="0.471" stop-color="#aa8831"/><stop offset="0.529" stop-color="#b49035"/><stop offset="0.588" stop-color="#af872e"/><stop offset="0.647" stop-color="#a97928"/><stop offset="0.706" stop-color="#9e671f"/><stop offset="0.765" stop-color="#8f5317"/><stop offset="0.824" stop-color="#7c410f"/><stop offset="0.882" stop-color="#672e09"/><stop offset="0.941" stop-color="#461802"/><stop offset="1.000" stop-color="#0e0100"/></linearGradient>
<linearGradient id="s48" gradientUnits="userSpaceOnUse" x1="0" y1="0" x2="0" y2="51.3"><stop offset="0.000" stop-color="#f0eb8f"/><stop offset="0.059" stop-color="#e7da76"/><stop offset="0.118" stop-color="#cfb956"/><stop offset="0.176" stop-color="#9d8734"/><stop offset="0.235" stop-color="#725c1d"/><stop offset="0.294" stop-color="#5c4311"/><stop offset="0.353" stop-color="#684d15"/><stop offset="0.412" stop-color="#886b23"/><stop offset="0.471" stop-color="#9f812f"/><stop offset="0.529" stop-color="#b29237"/><stop offset="0.588" stop-color="#b08c33"/><stop offset="0.647" stop-color="#ab822e"/><stop offset="0.706" stop-color="#9f7025"/><stop offset="0.765" stop-color="#8e5b1b"/><stop offset="0.824" stop-color="#794711"/><stop offset="0.882" stop-color="#63320a"/><stop offset="0.941" stop-color="#411a03"/><stop offset="1.000" stop-color="#0d0200"/></linearGradient>
<linearGradient id="s49" gradientUnits="userSpaceOnUse" x1="0" y1="0" x2="0" y2="49.0"><stop offset="0.000" stop-color="#f0ed91"/><stop offset="0.059" stop-color="#e8dc7a"/><stop offset="0.118" stop-color="#d0bc5b"/><stop offset="0.176" stop-color="#a38f39"/><stop offset="0.235" stop-color="#725d1e"/><stop offset="0.294" stop-color="#594311"/><stop offset="0.353" stop-color="#5d4512"/><stop offset="0.412" stop-color="#7b611f"/><stop offset="0.471" stop-color="#957b2c"/><stop offset="0.529" stop-color="#af933a"/><stop offset="0.588" stop-color="#b09238"/><stop offset="0.647" stop-color="#ad8b34"/><stop offset="0.706" stop-color="#a0792b"/><stop offset="0.765" stop-color="#8d631f"/><stop offset="0.824" stop-color="#764e13"/><stop offset="0.882" stop-color="#5e370b"/><stop offset="0.941" stop-color="#3d1d04"/><stop offset="1.000" stop-color="#0b0200"/></linearGradient>
<linearGradient id="s50" gradientUnits="userSpaceOnUse" x1="0" y1="0" x2="0" y2="46.6"><stop offset="0.000" stop-color="#f0ee94"/><stop offset="0.059" stop-color="#e8df7e"/><stop offset="0.118" stop-color="#d2c05f"/><stop offset="0.176" stop-color="#a8963f"/><stop offset="0.235" stop-color="#725f20"/><stop offset="0.294" stop-color="#574311"/><stop offset="0.353" stop-color="#533e0f"/><stop offset="0.412" stop-color="#6e581b"/><stop offset="0.471" stop-color="#8a7429"/><stop offset="0.529" stop-color="#ac953c"/><stop offset="0.588" stop-color="#b1983d"/><stop offset="0.647" stop-color="#b0943b"/><stop offset="0.706" stop-color="#a28231"/><stop offset="0.765" stop-color="#8c6b23"/><stop offset="0.824" stop-color="#735414"/><stop offset="0.882" stop-color="#5a3b0c"/><stop offset="0.941" stop-color="#382005"/><stop offset="1.000" stop-color="#0a0300"/></linearGradient>
<linearGradient id="s51" gradientUnits="userSpaceOnUse" x1="0" y1="0" x2="0" y2="44.0"><stop offset="0.000" stop-color="#f0ef96"/><stop offset="0.059" stop-color="#e9e181"/><stop offset="0.118" stop-color="#d4c464"/><stop offset="0.176" stop-color="#ae9d44"/><stop offset="0.235" stop-color="#726121"/><stop offset="0.294" stop-color="#554312"/><stop offset="0.353" stop-color="#49370b"/><stop offset="0.412" stop-color="#614f17"/><stop offset="0.471" stop-color="#7f6d27"/><stop offset="0.529" stop-color="#a9973e"/><stop offset="0.588" stop-color="#b19e42"/><stop offset="0.647" stop-color="#b29d41"/><stop offset="0.706" stop-color="#a38b37"/><stop offset="0.765" stop-color="#8b7327"/><stop offset="0.824" stop-color="#705a16"/><stop offset="0.882" stop-color="#553f0d"/><stop offset="0.941" stop-color="#342305"/><stop offset="1.000" stop-color="#090400"/></linearGradient>
<linearGradient id="s52" gradientUnits="userSpaceOnUse" x1="0" y1="0" x2="0" y2="40.7"><stop offset="0.000" stop-color="#efef97"/><stop offset="0.059" stop-color="#e8e385"/><stop offset="0.118" stop-color="#d5c96a"/><stop offset="0.176" stop-color="#b4a64c"/><stop offset="0.235" stop-color="#786b29"/><stop offset="0.294" stop-color="#5b4e1a"/><stop offset="0.353" stop-color="#43350c"/><stop offset="0.412" stop-color="#554714"/><stop offset="0.471" stop-color="#716423"/><stop offset="0.529" stop-color="#9c8e3b"/><stop offset="0.588" stop-color="#ab9d43"/><stop offset="0.647" stop-color="#b2a346"/><stop offset="0.706" stop-color="#a3923c"/><stop offset="0.765" stop-color="#8b7b2c"/><stop offset="0.824" stop-color="#6e611a"/><stop offset="0.882" stop-color="#50440f"/><stop offset="0.941" stop-color="#2f2507"/><stop offset="1.000" stop-color="#070400"/></linearGradient>
<linearGradient id="s53" gradientUnits="userSpaceOnUse" x1="0" y1="0" x2="0" y2="36.5"><stop offset="0.000" stop-color="#ebed95"/><stop offset="0.059" stop-color="#e5e387"/><stop offset="0.118" stop-color="#d6cf72"/><stop offset="0.176" stop-color="#bbb35a"/><stop offset="0.235" stop-color="#8b843e"/><stop offset="0.294" stop-color="#716b30"/><stop offset="0.353" stop-color="#463e13"/><stop offset="0.412" stop-color="#4b4212"/><stop offset="0.471" stop-color="#5f561d"/><stop offset="0.529" stop-color="#7e752f"/><stop offset="0.588" stop-color="#9b913e"/><stop offset="0.647" stop-color="#afa448"/><stop offset="0.706" stop-color="#a29640"/><stop offset="0.765" stop-color="#8c8232"/><stop offset="0.824" stop-color="#6b671f"/><stop offset="0.882" stop-color="#4b4913"/><stop offset="0.941" stop-color="#2b2808"/><stop offset="1.000" stop-color="#050300"/></linearGradient>
<linearGradient id="s54" gradientUnits="userSpaceOnUse" x1="0" y1="0" x2="0" y2="34.0"><stop offset="0.000" stop-color="#e7ec94"/><stop offset="0.059" stop-color="#e3e489"/><stop offset="0.118" stop-color="#d8d57a"/><stop offset="0.176" stop-color="#c2c068"/><stop offset="0.235" stop-color="#9d9c52"/><stop offset="0.294" stop-color="#868845"/><stop offset="0.353" stop-color="#49471a"/><stop offset="0.412" stop-color="#413e11"/><stop offset="0.471" stop-color="#4c4917"/><stop offset="0.529" stop-color="#5f5c22"/><stop offset="0.588" stop-color="#8b8539"/><stop offset="0.647" stop-color="#aba54a"/><stop offset="0.706" stop-color="#a09a43"/><stop offset="0.765" stop-color="#8c8a38"/><stop offset="0.824" stop-color="#696d25"/><stop offset="0.882" stop-color="#464f17"/><stop offset="0.941" stop-color="#262a0a"/><stop offset="1.000" stop-color="#040200"/></linearGradient>
<linearGradient id="s55" gradientUnits="userSpaceOnUse" x1="0" y1="0" x2="0" y2="32.4"><stop offset="0.000" stop-color="#e4ea92"/><stop offset="0.059" stop-color="#e0e48b"/><stop offset="0.118" stop-color="#d9dc82"/><stop offset="0.176" stop-color="#cacd76"/><stop offset="0.235" stop-color="#afb566"/><stop offset="0.294" stop-color="#9ca45b"/><stop offset="0.353" stop-color="#4c5020"/><stop offset="0.412" stop-color="#363910"/><stop offset="0.471" stop-color="#3a3c11"/><stop offset="0.529" stop-color="#404315"/><stop offset="0.588" stop-color="#7b7a34"/><stop offset="0.647" stop-color="#a8a64c"/><stop offset="0.706" stop-color="#9f9f47"/><stop offset="0.765" stop-color="#8d913d"/><stop offset="0.824" stop-color="#67732b"/><stop offset="0.882" stop-color="#41541a"/><stop offset="0.941" stop-color="#212d0c"/><stop offset="1.000" stop-color="#020100"/></linearGradient>
<linearGradient id="s56" gradientUnits="userSpaceOnUse" x1="0" y1="0" x2="0" y2="31.0"><stop offset="0.000" stop-color="#e0e890"/><stop offset="0.059" stop-color="#dde58d"/><stop offset="0.118" stop-color="#dae28a"/><stop offset="0.176" stop-color="#d1da84"/><stop offset="0.235" stop-color="#c1ce7a"/><stop offset="0.294" stop-color="#b2c171"/><stop offset="0.353" stop-color="#4f5927"/><stop offset="0.412" stop-color="#2c340e"/><stop offset="0.471" stop-color="#272f0c"/><stop offset="0.529" stop-color="#222a09"/><stop offset="0.588" stop-color="#6a6e2f"/><stop offset="0.647" stop-color="#a5a64e"/><stop offset="0.706" stop-color="#9da34b"/><stop offset="0.765" stop-color="#8e9843"/><stop offset="0.824" stop-color="#657930"/><stop offset="0.882" stop-color="#3c591e"/><stop offset="0.941" stop-color="#1c2f0e"/><stop offset="1.000" stop-color="#000000"/></linearGradient>
<linearGradient id="s57" gradientUnits="userSpaceOnUse" x1="0" y1="0" x2="0" y2="29.7"><stop offset="0.000" stop-color="#dae894"/><stop offset="0.059" stop-color="#d7e592"/><stop offset="0.118" stop-color="#d4e290"/><stop offset="0.176" stop-color="#cddc8b"/><stop offset="0.235" stop-color="#bfd183"/><stop offset="0.294" stop-color="#b1c67a"/><stop offset="0.353" stop-color="#667842"/><stop offset="0.412" stop-color="#38461e"/><stop offset="0.471" stop-color="#24300d"/><stop offset="0.529" stop-color="#222d0b"/><stop offset="0.588" stop-color="#585f27"/><stop offset="0.647" stop-color="#999f49"/><stop offset="0.706" stop-color="#98a149"/><stop offset="0.765" stop-color="#8b9743"/><stop offset="0.824" stop-color="#677b32"/><stop offset="0.882" stop-color="#3d5a1e"/><stop offset="0.941" stop-color="#1c2f0e"/><stop offset="1.000" stop-color="#000000"/></linearGradient>
<linearGradient id="s58" gradientUnits="userSpaceOnUse" x1="0" y1="0" x2="0" y2="28.6"><stop offset="0.000" stop-color="#d3e899"/><stop offset="0.059" stop-color="#d0e597"/><stop offset="0.118" stop-color="#cee396"/><stop offset="0.176" stop-color="#c8de93"/><stop offset="0.235" stop-color="#bdd58c"/><stop offset="0.294" stop-color="#b0cb83"/><stop offset="0.353" stop-color="#7d965d"/><stop offset="0.412" stop-color="#44582d"/><stop offset="0.471" stop-color="#21300e"/><stop offset="0.529" stop-color="#21300d"/><stop offset="0.588" stop-color="#46511f"/><stop offset="0.647" stop-color="#8e9745"/><stop offset="0.706" stop-color="#939e48"/><stop offset="0.765" stop-color="#899643"/><stop offset="0.824" stop-color="#697d34"/><stop offset="0.882" stop-color="#3d5a1e"/><stop offset="0.941" stop-color="#1c2f0e"/><stop offset="1.000" stop-color="#000000"/></linearGradient>
<linearGradient id="s59" gradientUnits="userSpaceOnUse" x1="0" y1="0" x2="0" y2="27.5"><stop offset="0.000" stop-color="#cde89d"/><stop offset="0.059" stop-color="#cae59c"/><stop offset="0.118" stop-color="#c8e39c"/><stop offset="0.176" stop-color="#c4e09a"/><stop offset="0.235" stop-color="#bbd995"/><stop offset="0.294" stop-color="#b0d08d"/><stop offset="0.353" stop-color="#94b578"/><stop offset="0.412" stop-color="#4f6a3d"/><stop offset="0.471" stop-color="#1d310f"/><stop offset="0.529" stop-color="#21320f"/><stop offset="0.588" stop-color="#344216"/><stop offset="0.647" stop-color="#828f40"/><stop offset="0.706" stop-color="#8e9c46"/><stop offset="0.765" stop-color="#869542"/><stop offset="0.824" stop-color="#6c7f35"/><stop offset="0.882" stop-color="#3e5b1f"/><stop offset="0.941" stop-color="#1c2f0e"/><stop offset="1.000" stop-color="#000000"/></linearGradient>
<linearGradient id="s60" gradientUnits="userSpaceOnUse" x1="0" y1="0" x2="0" y2="26.4"><stop offset="0.000" stop-color="#c6e79f"/><stop offset="0.059" stop-color="#c3e59f"/><stop offset="0.118" stop-color="#c1e39f"/><stop offset="0.176" stop-color="#bfe09f"/><stop offset="0.235" stop-color="#b8db9b"/><stop offset="0.294" stop-color="#aed393"/><stop offset="0.353" stop-color="#a4cc8c"/><stop offset="0.412" stop-color="#5c7e4d"/><stop offset="0.471" stop-color="#233c18"/><stop offset="0.529" stop-color="#263c16"/><stop offset="0.588" stop-color="#263911"/><stop offset="0.647" stop-color="#73853a"/><stop offset="0.706" stop-color="#839643"/><stop offset="0.765" stop-color="#7c9040"/><stop offset="0.824" stop-color="#677f35"/><stop offset="0.882" stop-color="#3b5d20"/><stop offset="0.941" stop-color="#1b320f"/><stop offset="1.000" stop-color="#000200"/></linearGradient>
<linearGradient id="s61" gradientUnits="userSpaceOnUse" x1="0" y1="0" x2="0" y2="25.2"><stop offset="0.000" stop-color="#bde49d"/><stop offset="0.059" stop-color="#bbe29d"/><stop offset="0.118" stop-color="#b8e09c"/><stop offset="0.176" stop-color="#b5de9c"/><stop offset="0.235" stop-color="#b0d998"/><stop offset="0.294" stop-color="#a8d492"/><stop offset="0.353" stop-color="#a0ce8c"/><stop offset="0.412" stop-color="#6c965f"/><stop offset="0.471" stop-color="#426738"/><stop offset="0.529" stop-color="#395a2d"/><stop offset="0.588" stop-color="#244017"/><stop offset="0.647" stop-color="#567431"/><stop offset="0.706" stop-color="#628238"/><stop offset="0.765" stop-color="#5d8136"/><stop offset="0.824" stop-color="#4f7830"/><stop offset="0.882" stop-color="#316624"/><stop offset="0.941" stop-color="#183d13"/><stop offset="1.000" stop-color="#000b00"/></linearGradient>
<linearGradient id="s62" gradientUnits="userSpaceOnUse" x1="0" y1="0" x2="0" y2="24.0"><stop offset="0.000" stop-color="#b5e19b"/><stop offset="0.059" stop-color="#b2df9a"/><stop offset="0.118" stop-color="#afdd99"/><stop offset="0.176" stop-color="#acdb98"/><stop offset="0.235" stop-color="#a8d896"/><stop offset="0.294" stop-color="#a1d491"/><stop offset="0.353" stop-color="#9cd08d"/><stop offset="0.412" stop-color="#7cae71"/><stop offset="0.471" stop-color="#629159"/><stop offset="0.529" stop-color="#4d7844"/><stop offset="0.588" stop-color="#22471d"/><stop offset="0.647" stop-color="#3a6227"/><stop offset="0.706" stop-color="#416e2d"/><stop offset="0.765" stop-color="#3e712d"/><stop offset="0.824" stop-color="#36722b"/><stop offset="0.882" stop-color="#266e28"/><stop offset="0.941" stop-color="#144817"/><stop offset="1.000" stop-color="#001300"/></linearGradient>
<linearGradient id="s63" gradientUnits="userSpaceOnUse" x1="0" y1="0" x2="0" y2="22.8"><stop offset="0.000" stop-color="#acde99"/><stop offset="0.059" stop-color="#a9dc98"/><stop offset="0.118" stop-color="#a6da96"/><stop offset="0.176" stop-color="#a3d995"/><stop offset="0.235" stop-color="#9fd693"/><stop offset="0.294" stop-color="#9bd491"/><stop offset="0.353" stop-color="#98d28e"/><stop offset="0.412" stop-color="#8cc683"/><stop offset="0.471" stop-color="#81bb79"/><stop offset="0.529" stop-color="#61975b"/><stop offset="0.588" stop-color="#204e22"/><stop offset="0.647" stop-color="#1e501e"/><stop offset="0.706" stop-color="#205b22"/><stop offset="0.765" stop-color="#1f6223"/><stop offset="0.824" stop-color="#1e6b26"/><stop offset="0.882" stop-color="#1c762b"/><stop offset="0.941" stop-color="#10531a"/><stop offset="1.000" stop-color="#001c00"/></linearGradient>
<linearGradient id="s64" gradientUnits="userSpaceOnUse" x1="0" y1="0" x2="0" y2="21.6"><stop offset="0.000" stop-color="#a5da96"/><stop offset="0.059" stop-color="#9ed491"/><stop offset="0.118" stop-color="#96cf8c"/><stop offset="0.176" stop-color="#8fc986"/><stop offset="0.235" stop-color="#8ac483"/><stop offset="0.294" stop-color="#86c180"/><stop offset="0.353" stop-color="#83be7d"/><stop offset="0.412" stop-color="#81be7c"/><stop offset="0.471" stop-color="#7fbe7a"/><stop offset="0.529" stop-color="#5e9a5d"/><stop offset="0.588" stop-color="#1d5225"/><stop offset="0.647" stop-color="#104b1c"/><stop offset="0.706" stop-color="#10551e"/><stop offset="0.765" stop-color="#115e21"/><stop offset="0.824" stop-color="#136b26"/><stop offset="0.882" stop-color="#177c2f"/><stop offset="0.941" stop-color="#105e20"/><stop offset="1.000" stop-color="#012202"/></linearGradient>
<linearGradient id="s65" gradientUnits="userSpaceOnUse" x1="0" y1="0" x2="0" y2="20.4"><stop offset="0.000" stop-color="#9ed792"/><stop offset="0.059" stop-color="#8fc985"/><stop offset="0.118" stop-color="#7fba79"/><stop offset="0.176" stop-color="#70ab6d"/><stop offset="0.235" stop-color="#67a265"/><stop offset="0.294" stop-color="#629b61"/><stop offset="0.353" stop-color="#5e955c"/><stop offset="0.412" stop-color="#5d985c"/><stop offset="0.471" stop-color="#5c9a5d"/><stop offset="0.529" stop-color="#45844a"/><stop offset="0.588" stop-color="#195424"/><stop offset="0.647" stop-color="#10521f"/><stop offset="0.706" stop-color="#115d23"/><stop offset="0.765" stop-color="#126726"/><stop offset="0.824" stop-color="#15722b"/><stop offset="0.882" stop-color="#198132"/><stop offset="0.941" stop-color="#146926"/><stop offset="1.000" stop-color="#042606"/></linearGradient>
<linearGradient id="s66" gradientUnits="userSpaceOnUse" x1="0" y1="0" x2="0" y2="19.3"><stop offset="0.000" stop-color="#98d48d"/><stop offset="0.059" stop-color="#80bd7a"/><stop offset="0.118" stop-color="#68a567"/><stop offset="0.176" stop-color="#518e53"/><stop offset="0.235" stop-color="#447f48"/><stop offset="0.294" stop-color="#3e7542"/><stop offset="0.353" stop-color="#396c3b"/><stop offset="0.412" stop-color="#39713d"/><stop offset="0.471" stop-color="#39763f"/><stop offset="0.529" stop-color="#2d6d36"/><stop offset="0.588" stop-color="#145623"/><stop offset="0.647" stop-color="#115a22"/><stop offset="0.706" stop-color="#126427"/><stop offset="0.765" stop-color="#146f2b"/><stop offset="0.824" stop-color="#167a30"/><stop offset="0.882" stop-color="#1b8535"/><stop offset="0.941" stop-color="#18732d"/><stop offset="1.000" stop-color="#072b0b"/></linearGradient>
<linearGradient id="s67" gradientUnits="userSpaceOnUse" x1="0" y1="0" x2="0" y2="18.2"><stop offset="0.000" stop-color="#92d189"/><stop offset="0.059" stop-color="#72b16f"/><stop offset="0.118" stop-color="#519154"/><stop offset="0.176" stop-color="#31713a"/><stop offset="0.235" stop-color="#215c2a"/><stop offset="0.294" stop-color="#1a4f22"/><stop offset="0.353" stop-color="#13431a"/><stop offset="0.412" stop-color="#144a1e"/><stop offset="0.471" stop-color="#155121"/><stop offset="0.529" stop-color="#145622"/><stop offset="0.588" stop-color="#105822"/><stop offset="0.647" stop-color="#116126"/><stop offset="0.706" stop-color="#136c2b"/><stop offset="0.765" stop-color="#157730"/><stop offset="0.824" stop-color="#188135"/><stop offset="0.882" stop-color="#1c8939"/><stop offset="0.941" stop-color="#1c7e33"/><stop offset="1.000" stop-color="#092f0f"/></linearGradient>
<linearGradient id="s68" gradientUnits="userSpaceOnUse" x1="0" y1="0" x2="0" y2="17.1"><stop offset="0.000" stop-color="#75b272"/><stop offset="0.059" stop-color="#5a985b"/><stop offset="0.118" stop-color="#3f7d45"/><stop offset="0.176" stop-color="#24632f"/><stop offset="0.235" stop-color="#165222"/><stop offset="0.294" stop-color="#10481c"/><stop offset="0.353" stop-color="#0b3e16"/><stop offset="0.412" stop-color="#0c461a"/><stop offset="0.471" stop-color="#0d4f1e"/><stop offset="0.529" stop-color="#0f5722"/><stop offset="0.588" stop-color="#106026"/><stop offset="0.647" stop-color="#136a2b"/><stop offset="0.706" stop-color="#167531"/><stop offset="0.765" stop-color="#198037"/><stop offset="0.824" stop-color="#1d893c"/><stop offset="0.882" stop-color="#239242"/><stop offset="0.941" stop-color="#268e43"/><stop offset="1.000" stop-color="#0a3012"/></linearGradient>
<linearGradient id="s69" gradientUnits="userSpaceOnUse" x1="0" y1="0" x2="0" y2="16.1"><stop offset="0.000" stop-color="#518b54"/><stop offset="0.059" stop-color="#407b46"/><stop offset="0.118" stop-color="#2e6a37"/><stop offset="0.176" stop-color="#1c5a29"/><stop offset="0.235" stop-color="#135022"/><stop offset="0.294" stop-color="#0f4a1e"/><stop offset="0.353" stop-color="#0c461b"/><stop offset="0.412" stop-color="#0d4f1f"/><stop offset="0.471" stop-color="#0f5823"/><stop offset="0.529" stop-color="#106127"/><stop offset="0.588" stop-color="#126a2b"/><stop offset="0.647" stop-color="#157431"/><stop offset="0.706" stop-color="#197e38"/><stop offset="0.765" stop-color="#1e893e"/><stop offset="0.824" stop-color="#229244"/><stop offset="0.882" stop-color="#2b9d4e"/><stop offset="0.941" stop-color="#33a156"/><stop offset="1.000" stop-color="#093014"/></linearGradient>
<linearGradient id="s70" gradientUnits="userSpaceOnUse" x1="0" y1="0" x2="0" y2="15.3"><stop offset="0.000" stop-color="#2e6336"/><stop offset="0.059" stop-color="#255d30"/><stop offset="0.118" stop-color="#1d572a"/><stop offset="0.176" stop-color="#145124"/><stop offset="0.235" stop-color="#104e21"/><stop offset="0.294" stop-color="#0e4d20"/><stop offset="0.353" stop-color="#0d4d1f"/><stop offset="0.412" stop-color="#0f5724"/><stop offset="0.471" stop-color="#106028"/><stop offset="0.529" stop-color="#126a2d"/><stop offset="0.588" stop-color="#137431"/><stop offset="0.647" stop-color="#187e38"/><stop offset="0.706" stop-color="#1d883f"/><stop offset="0.765" stop-color="#229246"/><stop offset="0.824" stop-color="#289b4d"/><stop offset="0.882" stop-color="#32a859"/><stop offset="0.941" stop-color="#40b369"/><stop offset="1.000" stop-color="#093016"/></linearGradient>
<linearGradient id="s71" gradientUnits="userSpaceOnUse" x1="0" y1="0" x2="0" y2="14.6"><stop offset="0.000" stop-color="#0a3c18"/><stop offset="0.059" stop-color="#0b401a"/><stop offset="0.118" stop-color="#0b441c"/><stop offset="0.176" stop-color="#0c481e"/><stop offset="0.235" stop-color="#0d4c20"/><stop offset="0.294" stop-color="#0d5022"/><stop offset="0.353" stop-color="#0e5524"/><stop offset="0.412" stop-color="#105f29"/><stop offset="0.471" stop-color="#11692e"/><stop offset="0.529" stop-color="#137432"/><stop offset="0.588" stop-color="#157e37"/><stop offset="0.647" stop-color="#1a883e"/><stop offset="0.706" stop-color="#209146"/><stop offset="0.765" stop-color="#279a4d"/><stop offset="0.824" stop-color="#2da455"/><stop offset="0.882" stop-color="#3ab265"/><stop offset="0.941" stop-color="#4dc57c"/><stop offset="1.000" stop-color="#083018"/></linearGradient>
<linearGradient id="s72" gradientUnits="userSpaceOnUse" x1="0" y1="0" x2="0" y2="14.0"><stop offset="0.000" stop-color="#0b481f"/><stop offset="0.059" stop-color="#0c4c22"/><stop offset="0.118" stop-color="#0d5124"/><stop offset="0.176" stop-color="#0e5527"/><stop offset="0.235" stop-color="#0f5929"/><stop offset="0.294" stop-color="#105e2c"/><stop offset="0.353" stop-color="#10622e"/><stop offset="0.412" stop-color="#136c35"/><stop offset="0.471" stop-color="#16763b"/><stop offset="0.529" stop-color="#187f41"/><stop offset="0.588" stop-color="#1b8947"/><stop offset="0.647" stop-color="#229350"/><stop offset="0.706" stop-color="#2b9d5a"/><stop offset="0.765" stop-color="#33a863"/><stop offset="0.824" stop-color="#3cb16c"/><stop offset="0.882" stop-color="#49be7b"/><stop offset="0.941" stop-color="#56c88a"/><stop offset="1.000" stop-color="#0a341d"/></linearGradient>
<linearGradient id="s73" gradientUnits="userSpaceOnUse" x1="0" y1="0" x2="0" y2="13.5"><stop offset="0.000" stop-color="#0d5427"/><stop offset="0.059" stop-color="#0e582a"/><stop offset="0.118" stop-color="#0f5d2d"/><stop offset="0.176" stop-color="#10622f"/><stop offset="0.235" stop-color="#116632"/><stop offset="0.294" stop-color="#126b35"/><stop offset="0.353" stop-color="#137039"/><stop offset="0.412" stop-color="#167940"/><stop offset="0.471" stop-color="#1a8248"/><stop offset="0.529" stop-color="#1d8b50"/><stop offset="0.588" stop-color="#219457"/><stop offset="0.647" stop-color="#2a9f62"/><stop offset="0.706" stop-color="#35aa6e"/><stop offset="0.765" stop-color="#40b579"/><stop offset="0.824" stop-color="#4bbf84"/><stop offset="0.882" stop-color="#58ca92"/><stop offset="0.941" stop-color="#5fca97"/><stop offset="1.000" stop-color="#0c3723"/></linearGradient>
<linearGradient id="s74" gradientUnits="userSpaceOnUse" x1="0" y1="0" x2="0" y2="13.0"><stop offset="0.000" stop-color="#0e602e"/><stop offset="0.059" stop-color="#0f6531"/><stop offset="0.118" stop-color="#106a35"/><stop offset="0.176" stop-color="#126f38"/><stop offset="0.235" stop-color="#13733c"/><stop offset="0.294" stop-color="#14783f"/><stop offset="0.353" stop-color="#157e43"/><stop offset="0.412" stop-color="#19864c"/><stop offset="0.471" stop-color="#1e8e55"/><stop offset="0.529" stop-color="#22975e"/><stop offset="0.588" stop-color="#279f68"/><stop offset="0.647" stop-color="#32aa74"/><stop offset="0.706" stop-color="#3fb682"/><stop offset="0.765" stop-color="#4dc290"/><stop offset="0.824" stop-color="#59cc9c"/><stop offset="0.882" stop-color="#68d6a8"/><stop offset="0.941" stop-color="#68cda4"/><stop offset="1.000" stop-color="#0d3b28"/></linearGradient>
<linearGradient id="s75" gradientUnits="userSpaceOnUse" x1="0" y1="0" x2="0" y2="12.5"><stop offset="0.000" stop-color="#0f6c35"/><stop offset="0.059" stop-color="#117139"/><stop offset="0.118" stop-color="#12763d"/><stop offset="0.176" stop-color="#137b41"/><stop offset="0.235" stop-color="#158145"/><stop offset="0.294" stop-color="#168649"/><stop offset="0.353" stop-color="#178b4d"/><stop offset="0.412" stop-color="#1d9357"/><stop offset="0.471" stop-color="#229b62"/><stop offset="0.529" stop-color="#27a36d"/><stop offset="0.588" stop-color="#2daa78"/><stop offset="0.647" stop-color="#3ab686"/><stop offset="0.706" stop-color="#4ac396"/><stop offset="0.765" stop-color="#59cfa6"/><stop offset="0.824" stop-color="#68dab3"/><stop offset="0.882" stop-color="#77e2bf"/><stop offset="0.941" stop-color="#71d0b1"/><stop offset="1.000" stop-color="#0f3f2e"/></linearGradient>
<linearGradient id="s76" gradientUnits="userSpaceOnUse" x1="0" y1="0" x2="0" y2="11.8"><stop offset="0.000" stop-color="#11743e"/><stop offset="0.059" stop-color="#127a42"/><stop offset="0.118" stop-color="#147f47"/><stop offset="0.176" stop-color="#15844b"/><stop offset="0.235" stop-color="#17894f"/><stop offset="0.294" stop-color="#188f53"/><stop offset="0.353" stop-color="#1a9458"/><stop offset="0.412" stop-color="#209b63"/><stop offset="0.471" stop-color="#26a36e"/><stop offset="0.529" stop-color="#2cab7a"/><stop offset="0.588" stop-color="#32b285"/><stop offset="0.647" stop-color="#41be94"/><stop offset="0.706" stop-color="#51caa4"/><stop offset="0.765" stop-color="#62d7b4"/><stop offset="0.824" stop-color="#70e0c1"/><stop offset="0.882" stop-color="#7ae4c8"/><stop offset="0.941" stop-color="#71ceb7"/><stop offset="1.000" stop-color="#154b3c"/></linearGradient>
<linearGradient id="s77" gradientUnits="userSpaceOnUse" x1="0" y1="0" x2="0" y2="11.2"><stop offset="0.000" stop-color="#127c48"/><stop offset="0.059" stop-color="#14814d"/><stop offset="0.118" stop-color="#168651"/><stop offset="0.176" stop-color="#188b55"/><stop offset="0.235" stop-color="#19905a"/><stop offset="0.294" stop-color="#1b955e"/><stop offset="0.353" stop-color="#1d9a63"/><stop offset="0.412" stop-color="#24a16e"/><stop offset="0.471" stop-color="#2aa97a"/><stop offset="0.529" stop-color="#31b085"/><stop offset="0.588" stop-color="#38b890"/><stop offset="0.647" stop-color="#46c39f"/><stop offset="0.706" stop-color="#57cfaf"/><stop offset="0.765" stop-color="#67dbbf"/><stop offset="0.824" stop-color="#73e1c9"/><stop offset="0.882" stop-color="#77dfc9"/><stop offset="0.941" stop-color="#6cc9b7"/><stop offset="1.000" stop-color="#1e5c50"/></linearGradient>
<linearGradient id="s78" gradientUnits="userSpaceOnUse" x1="0" y1="0" x2="0" y2="10.5"><stop offset="0.000" stop-color="#148352"/><stop offset="0.059" stop-color="#168757"/><stop offset="0.118" stop-color="#188c5b"/><stop offset="0.176" stop-color="#1a9160"/><stop offset="0.235" stop-color="#1c9665"/><stop offset="0.294" stop-color="#1e9a69"/><stop offset="0.353" stop-color="#209f6e"/><stop offset="0.412" stop-color="#27a77a"/><stop offset="0.471" stop-color="#2fae85"/><stop offset="0.529" stop-color="#36b690"/><stop offset="0.588" stop-color="#3dbd9c"/><stop offset="0.647" stop-color="#4cc8aa"/><stop offset="0.706" stop-color="#5dd3ba"/><stop offset="0.765" stop-color="#6ddfc9"/><stop offset="0.824" stop-color="#76e2d0"/><stop offset="0.882" stop-color="#74dbcb"/><stop offset="0.941" stop-color="#66c5b7"/><stop offset="1.000" stop-color="#266d64"/></linearGradient>
<linearGradient id="s79" gradientUnits="userSpaceOnUse" x1="0" y1="0" x2="0" y2="9.9"><stop offset="0.000" stop-color="#158a5c"/><stop offset="0.059" stop-color="#178e61"/><stop offset="0.118" stop-color="#1a9366"/><stop offset="0.176" stop-color="#1c976b"/><stop offset="0.235" stop-color="#1e9c70"/><stop offset="0.294" stop-color="#20a075"/><stop offset="0.353" stop-color="#23a57a"/><stop offset="0.412" stop-color="#2bad85"/><stop offset="0.471" stop-color="#33b490"/><stop offset="0.529" stop-color="#3bbc9c"/><stop offset="0.588" stop-color="#43c3a7"/><stop offset="0.647" stop-color="#52cdb5"/><stop offset="0.706" stop-color="#62d8c4"/><stop offset="0.765" stop-color="#73e2d3"/><stop offset="0.824" stop-color="#79e4d8"/><stop offset="0.882" stop-color="#71d7cc"/><stop offset="0.941" stop-color="#60c0b7"/><stop offset="1.000" stop-color="#2f7e78"/></linearGradient>
<linearGradient id="s80" gradientUnits="userSpaceOnUse" x1="0" y1="0" x2="0" y2="9.2"><stop offset="0.000" stop-color="#179166"/><stop offset="0.059" stop-color="#19956b"/><stop offset="0.118" stop-color="#1b9970"/><stop offset="0.176" stop-color="#1e9e75"/><stop offset="0.235" stop-color="#20a27b"/><stop offset="0.294" stop-color="#23a680"/><stop offset="0.353" stop-color="#26ab85"/><stop offset="0.412" stop-color="#2eb290"/><stop offset="0.471" stop-color="#37ba9c"/><stop offset="0.529" stop-color="#40c1a7"/><stop offset="0.588" stop-color="#49c9b2"/><stop offset="0.647" stop-color="#57d2c0"/><stop offset="0.706" stop-color="#68dccf"/><stop offset="0.765" stop-color="#78e6dd"/><stop offset="0.824" stop-color="#7ce5df"/><stop offset="0.882" stop-color="#6ed3ce"/><stop offset="0.941" stop-color="#5bbcb7"/><stop offset="1.000" stop-color="#378f8c"/></linearGradient>
<linearGradient id="s81" gradientUnits="userSpaceOnUse" x1="0" y1="0" x2="0" y2="8.6"><stop offset="0.000" stop-color="#189870"/><stop offset="0.059" stop-color="#1b9c75"/><stop offset="0.118" stop-color="#1da07b"/><stop offset="0.176" stop-color="#20a480"/><stop offset="0.235" stop-color="#23a886"/><stop offset="0.294" stop-color="#25ac8b"/><stop offset="0.353" stop-color="#28b091"/><stop offset="0.412" stop-color="#32b89c"/><stop offset="0.471" stop-color="#3bbfa7"/><stop offset="0.529" stop-color="#45c7b2"/><stop offset="0.588" stop-color="#4ecebe"/><stop offset="0.647" stop-color="#5dd8cb"/><stop offset="0.706" stop-color="#6ee1d9"/><stop offset="0.765" stop-color="#7eeae8"/><stop offset="0.824" stop-color="#80e7e7"/><stop offset="0.882" stop-color="#6acfcf"/><stop offset="0.941" stop-color="#55b8b8"/><stop offset="1.000" stop-color="#40a0a0"/></linearGradient>
<linearGradient id="s82" gradientUnits="userSpaceOnUse" x1="0" y1="0" x2="0" y2="7.9"><stop offset="0.000" stop-color="#1fa484"/><stop offset="0.059" stop-color="#22a788"/><stop offset="0.118" stop-color="#24ab8d"/><stop offset="0.176" stop-color="#26ae91"/><stop offset="0.235" stop-color="#29b296"/><stop offset="0.294" stop-color="#2bb59a"/><stop offset="0.353" stop-color="#2eb89f"/><stop offset="0.412" stop-color="#36bfa8"/><stop offset="0.471" stop-color="#3ec5b2"/><stop offset="0.529" stop-color="#46cbbb"/><stop offset="0.588" stop-color="#4ed1c4"/><stop offset="0.647" stop-color="#5bd9d0"/><stop offset="0.706" stop-color="#68e1db"/><stop offset="0.765" stop-color="#75e7e6"/><stop offset="0.824" stop-color="#76e3e4"/><stop offset="0.882" stop-color="#64cfcf"/><stop offset="0.941" stop-color="#52babb"/><stop offset="1.000" stop-color="#40a6a6"/></linearGradient>
<linearGradient id="s83" gradientUnits="userSpaceOnUse" x1="0" y1="0" x2="0" y2="7.2"><stop offset="0.000" stop-color="#26b098"/><stop offset="0.059" stop-color="#28b39b"/><stop offset="0.118" stop-color="#2bb69f"/><stop offset="0.176" stop-color="#2db8a3"/><stop offset="0.235" stop-color="#2fbba6"/><stop offset="0.294" stop-color="#31beaa"/><stop offset="0.353" stop-color="#34c1ae"/><stop offset="0.412" stop-color="#3ac6b5"/><stop offset="0.471" stop-color="#41cbbc"/><stop offset="0.529" stop-color="#47d0c4"/><stop offset="0.588" stop-color="#4ed4cb"/><stop offset="0.647" stop-color="#58dad4"/><stop offset="0.706" stop-color="#63e0dd"/><stop offset="0.765" stop-color="#6ce4e4"/><stop offset="0.824" stop-color="#6ce0e1"/><stop offset="0.882" stop-color="#5eced0"/><stop offset="0.941" stop-color="#4fbdbe"/><stop offset="1.000" stop-color="#40abad"/></linearGradient>
<linearGradient id="s84" gradientUnits="userSpaceOnUse" x1="0" y1="0" x2="0" y2="6.3"><stop offset="0.000" stop-color="#2dbcac"/><stop offset="0.059" stop-color="#2fbeae"/><stop offset="0.118" stop-color="#31c0b1"/><stop offset="0.176" stop-color="#33c2b4"/><stop offset="0.235" stop-color="#35c5b6"/><stop offset="0.294" stop-color="#37c7b9"/><stop offset="0.353" stop-color="#39c9bc"/><stop offset="0.412" stop-color="#3eccc1"/><stop offset="0.471" stop-color="#44d0c7"/><stop offset="0.529" stop-color="#49d4cc"/><stop offset="0.588" stop-color="#4ed7d2"/><stop offset="0.647" stop-color="#56dcd8"/><stop offset="0.706" stop-color="#5ee0df"/><stop offset="0.765" stop-color="#64e1e2"/><stop offset="0.824" stop-color="#63dcde"/><stop offset="0.882" stop-color="#57ced0"/><stop offset="0.941" stop-color="#4cbfc2"/><stop offset="1.000" stop-color="#40b1b3"/></linearGradient>
<linearGradient id="s85" gradientUnits="userSpaceOnUse" x1="0" y1="0" x2="0" y2="5.2"><stop offset="0.000" stop-color="#34c8c0"/><stop offset="0.059" stop-color="#36cac1"/><stop offset="0.118" stop-color="#38cbc3"/><stop offset="0.176" stop-color="#3acdc5"/><stop offset="0.235" stop-color="#3bcec7"/><stop offset="0.294" stop-color="#3dcfc9"/><stop offset="0.353" stop-color="#3fd1ca"/><stop offset="0.412" stop-color="#43d3ce"/><stop offset="0.471" stop-color="#46d6d1"/><stop offset="0.529" stop-color="#4ad8d5"/><stop offset="0.588" stop-color="#4edad8"/><stop offset="0.647" stop-color="#53dddd"/><stop offset="0.706" stop-color="#58e0e0"/><stop offset="0.765" stop-color="#5bdee0"/><stop offset="0.824" stop-color="#59d9db"/><stop offset="0.882" stop-color="#51cdd0"/><stop offset="0.941" stop-color="#48c2c5"/><stop offset="1.000" stop-color="#40b7ba"/></linearGradient>
<linearGradient id="s86" gradientUnits="userSpaceOnUse" x1="0" y1="0" x2="0" y2="4.1"><stop offset="0.000" stop-color="#3cd4d4"/><stop offset="0.059" stop-color="#3dd5d4"/><stop offset="0.118" stop-color="#3fd6d5"/><stop offset="0.176" stop-color="#40d7d6"/><stop offset="0.235" stop-color="#42d7d7"/><stop offset="0.294" stop-color="#43d8d8"/><stop offset="0.353" stop-color="#45d9d9"/><stop offset="0.412" stop-color="#47dadb"/><stop offset="0.471" stop-color="#49dbdc"/><stop offset="0.529" stop-color="#4bdcde"/><stop offset="0.588" stop-color="#4edddf"/><stop offset="0.647" stop-color="#50dfe1"/><stop offset="0.706" stop-color="#53e0e2"/><stop offset="0.765" stop-color="#52dbde"/><stop offset="0.824" stop-color="#4fd5d9"/><stop offset="0.882" stop-color="#4acdd0"/><stop offset="0.941" stop-color="#45c5c8"/><stop offset="1.000" stop-color="#40bcc0"/></linearGradient>
<linearGradient id="s87" gradientUnits="userSpaceOnUse" x1="0" y1="0" x2="0" y2="3.7"><stop offset="0.000" stop-color="#3fdce0"/><stop offset="0.059" stop-color="#41dce1"/><stop offset="0.118" stop-color="#42dde1"/><stop offset="0.176" stop-color="#43dde1"/><stop offset="0.235" stop-color="#45dde2"/><stop offset="0.294" stop-color="#46dee2"/><stop offset="0.353" stop-color="#47dee2"/><stop offset="0.412" stop-color="#49dee3"/><stop offset="0.471" stop-color="#4adfe3"/><stop offset="0.529" stop-color="#4bdfe3"/><stop offset="0.588" stop-color="#4ddfe4"/><stop offset="0.647" stop-color="#4ee0e4"/><stop offset="0.706" stop-color="#4fdfe4"/><stop offset="0.765" stop-color="#4cd9dd"/><stop offset="0.824" stop-color="#49d3d7"/><stop offset="0.882" stop-color="#46cdd1"/><stop offset="0.941" stop-color="#42c6ca"/><stop offset="1.000" stop-color="#3fc0c4"/></linearGradient>
<linearGradient id="s88" gradientUnits="userSpaceOnUse" x1="0" y1="0" x2="0" y2="3.4"><stop offset="0.000" stop-color="#3edde1"/><stop offset="0.059" stop-color="#3fdde1"/><stop offset="0.118" stop-color="#40dde2"/><stop offset="0.176" stop-color="#41dde2"/><stop offset="0.235" stop-color="#43dee2"/><stop offset="0.294" stop-color="#44dee3"/><stop offset="0.353" stop-color="#45dee3"/><stop offset="0.412" stop-color="#46dfe3"/><stop offset="0.471" stop-color="#48dfe3"/><stop offset="0.529" stop-color="#49dfe4"/><stop offset="0.588" stop-color="#4adfe4"/><stop offset="0.647" stop-color="#4be0e4"/><stop offset="0.706" stop-color="#4cdfe4"/><stop offset="0.765" stop-color="#49d9de"/><stop offset="0.824" stop-color="#46d3d7"/><stop offset="0.882" stop-color="#43cdd1"/><stop offset="0.941" stop-color="#41c6cb"/><stop offset="1.000" stop-color="#3ec0c5"/></linearGradient>
<linearGradient id="s89" gradientUnits="userSpaceOnUse" x1="0" y1="0" x2="0" y2="3.3"><stop offset="0.000" stop-color="#3cdde2"/><stop offset="0.059" stop-color="#3ddde2"/><stop offset="0.118" stop-color="#3edee3"/><stop offset="0.176" stop-color="#3fdee3"/><stop offset="0.235" stop-color="#41dee3"/><stop offset="0.294" stop-color="#42dee3"/><stop offset="0.353" stop-color="#43dfe4"/><stop offset="0.412" stop-color="#44dfe4"/><stop offset="0.471" stop-color="#45dfe4"/><stop offset="0.529" stop-color="#47dfe4"/><stop offset="0.588" stop-color="#48e0e5"/><stop offset="0.647" stop-color="#49e0e5"/><stop offset="0.706" stop-color="#4adfe4"/><stop offset="0.765" stop-color="#47d9de"/><stop offset="0.824" stop-color="#44d3d8"/><stop offset="0.882" stop-color="#41cdd2"/><stop offset="0.941" stop-color="#3fc6cb"/><stop offset="1.000" stop-color="#3cc0c5"/></linearGradient>
<linearGradient id="s90" gradientUnits="userSpaceOnUse" x1="0" y1="0" x2="0" y2="3.2"><stop offset="0.000" stop-color="#3adde3"/><stop offset="0.059" stop-color="#3bdee3"/><stop offset="0.118" stop-color="#3cdee3"/><stop offset="0.176" stop-color="#3edee4"/><stop offset="0.235" stop-color="#3fdee4"/><stop offset="0.294" stop-color="#40dfe4"/><stop offset="0.353" stop-color="#41dfe4"/><stop offset="0.412" stop-color="#42dfe4"/><stop offset="0.471" stop-color="#43dfe5"/><stop offset="0.529" stop-color="#44dfe5"/><stop offset="0.588" stop-color="#45e0e5"/><stop offset="0.647" stop-color="#46e0e5"/><stop offset="0.706" stop-color="#47dfe5"/><stop offset="0.765" stop-color="#45d9df"/><stop offset="0.824" stop-color="#42d3d8"/><stop offset="0.882" stop-color="#3fcdd2"/><stop offset="0.941" stop-color="#3dc6cc"/><stop offset="1.000" stop-color="#3ac0c5"/></linearGradient>
<linearGradient id="s91" gradientUnits="userSpaceOnUse" x1="0" y1="0" x2="0" y2="3.1"><stop offset="0.000" stop-color="#39dee4"/><stop offset="0.059" stop-color="#3adee4"/><stop offset="0.118" stop-color="#3bdee4"/><stop offset="0.176" stop-color="#3cdee4"/><stop offset="0.235" stop-color="#3ddfe4"/><stop offset="0.294" stop-color="#3edfe5"/><stop offset="0.353" stop-color="#3fdfe5"/><stop offset="0.412" stop-color="#40dfe5"/><stop offset="0.471" stop-color="#41dfe5"/><stop offset="0.529" stop-color="#42dfe5"/><stop offset="0.588" stop-color="#43e0e6"/><stop offset="0.647" stop-color="#44e0e6"/><stop offset="0.706" stop-color="#45dfe5"/><stop offset="0.765" stop-color="#42d9df"/><stop offset="0.824" stop-color="#40d3d9"/><stop offset="0.882" stop-color="#3dcdd2"/><stop offset="0.941" stop-color="#3bc6cc"/><stop offset="1.000" stop-color="#39c0c6"/></linearGradient>
<linearGradient id="s92" gradientUnits="userSpaceOnUse" x1="0" y1="0" x2="0" y2="3.1"><stop offset="0.000" stop-color="#37dee5"/><stop offset="0.059" stop-color="#38dee5"/><stop offset="0.118" stop-color="#39dfe5"/><stop offset="0.176" stop-color="#3adfe5"/><stop offset="0.235" stop-color="#3bdfe5"/><stop offset="0.294" stop-color="#3cdfe5"/><stop offset="0.353" stop-color="#3ddfe5"/><stop offset="0.412" stop-color="#3edfe6"/><stop offset="0.471" stop-color="#3edfe6"/><stop offset="0.529" stop-color="#3fe0e6"/><stop offset="0.588" stop-color="#40e0e6"/><stop offset="0.647" stop-color="#41e0e6"/><stop offset="0.706" stop-color="#42dfe6"/><stop offset="0.765" stop-color="#40d9df"/><stop offset="0.824" stop-color="#3ed3d9"/><stop offset="0.882" stop-color="#3bcdd3"/><stop offset="0.941" stop-color="#39c6cd"/><stop offset="1.000" stop-color="#37c0c6"/></linearGradient>
<linearGradient id="s93" gradientUnits="userSpaceOnUse" x1="0" y1="0" x2="0" y2="3.0"><stop offset="0.000" stop-color="#35dfe5"/><stop offset="0.059" stop-color="#36dfe6"/><stop offset="0.118" stop-color="#37dfe6"/><stop offset="0.176" stop-color="#38dfe6"/><stop offset="0.235" stop-color="#39dfe6"/><stop offset="0.294" stop-color="#3adfe6"/><stop offset="0.353" stop-color="#3adfe6"/><stop offset="0.412" stop-color="#3bdfe6"/><stop offset="0.471" stop-color="#3ce0e6"/><stop offset="0.529" stop-color="#3de0e6"/><stop offset="0.588" stop-color="#3ee0e7"/><stop offset="0.647" stop-color="#3fe0e7"/><stop offset="0.706" stop-color="#3fdfe6"/><stop offset="0.765" stop-color="#3dd9e0"/><stop offset="0.824" stop-color="#3bd3da"/><stop offset="0.882" stop-color="#39cdd3"/><stop offset="0.941" stop-color="#37c6cd"/><stop offset="1.000" stop-color="#35c0c7"/></linearGradient>
<linearGradient id="s94" gradientUnits="userSpaceOnUse" x1="0" y1="0" x2="0" y2="3.0"><stop offset="0.000" stop-color="#33dfe6"/><stop offset="0.059" stop-color="#34dfe6"/><stop offset="0.118" stop-color="#35dfe6"/><stop offset="0.176" stop-color="#36dfe7"/><stop offset="0.235" stop-color="#37dfe7"/><stop offset="0.294" stop-color="#37e0e7"/><stop offset="0.353" stop-color="#38e0e7"/><stop offset="0.412" stop-color="#39e0e7"/><stop offset="0.471" stop-color="#3ae0e7"/><stop offset="0.529" stop-color="#3be0e7"/><stop offset="0.588" stop-color="#3ce0e7"/><stop offset="0.647" stop-color="#3ce0e7"/><stop offset="0.706" stop-color="#3ddfe7"/><stop offset="0.765" stop-color="#3bd9e0"/><stop offset="0.824" stop-color="#39d3da"/><stop offset="0.882" stop-color="#37cdd4"/><stop offset="0.941" stop-color="#35c6cd"/><stop offset="1.000" stop-color="#33c0c7"/></linearGradient>
<linearGradient id="s95" gradientUnits="userSpaceOnUse" x1="0" y1="0" x2="0" y2="3.0"><stop offset="0.000" stop-color="#32e0e7"/><stop offset="0.059" stop-color="#32e0e7"/><stop offset="0.118" stop-color="#33e0e7"/><stop offset="0.176" stop-color="#34e0e7"/><stop offset="0.235" stop-color="#35e0e7"/><stop offset="0.294" stop-color="#35e0e7"/><stop offset="0.353" stop-color="#36e0e7"/><stop offset="0.412" stop-color="#37e0e7"/><stop offset="0.471" stop-color="#38e0e7"/><stop offset="0.529" stop-color="#38e0e7"/><stop offset="0.588" stop-color="#39e0e8"/><stop offset="0.647" stop-color="#3ae0e8"/><stop offset="0.706" stop-color="#3adfe7"/><stop offset="0.765" stop-color="#39d9e1"/><stop offset="0.824" stop-color="#37d3da"/><stop offset="0.882" stop-color="#35cdd4"/><stop offset="0.941" stop-color="#33c6ce"/><stop offset="1.000" stop-color="#32c0c8"/></linearGradient>
<linearGradient id="s96" gradientUnits="userSpaceOnUse" x1="0" y1="0" x2="0" y2="3.0"><stop offset="0.000" stop-color="#30e0e8"/><stop offset="0.059" stop-color="#31e0e8"/><stop offset="0.118" stop-color="#31e0e8"/><stop offset="0.176" stop-color="#32e0e8"/><stop offset="0.235" stop-color="#33e0e8"/><stop offset="0.294" stop-color="#33e0e8"/><stop offset="0.353" stop-color="#34e0e8"/><stop offset="0.412" stop-color="#35e0e8"/><stop offset="0.471" stop-color="#35e0e8"/><stop offset="0.529" stop-color="#36e0e8"/><stop offset="0.588" stop-color="#37e0e8"/><stop offset="0.647" stop-color="#37e0e8"/><stop offset="0.706" stop-color="#38dfe7"/><stop offset="0.765" stop-color="#36d9e1"/><stop offset="0.824" stop-color="#35d3db"/><stop offset="0.882" stop-color="#33cdd5"/><stop offset="0.941" stop-color="#32c6ce"/><stop offset="1.000" stop-color="#30c0c8"/></linearGradient>
<linearGradient id="s97" gradientUnits="userSpaceOnUse" x1="0" y1="0" x2="0" y2="3.1"><stop offset="0.000" stop-color="#2ee0e8"/><stop offset="0.059" stop-color="#2fe0e8"/><stop offset="0.118" stop-color="#31e0e8"/><stop offset="0.176" stop-color="#32e0e8"/><stop offset="0.235" stop-color="#33e0e8"/><stop offset="0.294" stop-color="#34e0e8"/><stop offset="0.353" stop-color="#35e0e8"/><stop offset="0.412" stop-color="#36e1e9"/><stop offset="0.471" stop-color="#37e1e9"/><stop offset="0.529" stop-color="#38e1e9"/><stop offset="0.588" stop-color="#39e1e9"/><stop offset="0.647" stop-color="#3ae1e9"/><stop offset="0.706" stop-color="#3be0e8"/><stop offset="0.765" stop-color="#3adae2"/><stop offset="0.824" stop-color="#38d4dc"/><stop offset="0.882" stop-color="#37cfd7"/><stop offset="0.941" stop-color="#36c9d1"/><stop offset="1.000" stop-color="#35c3cb"/></linearGradient>
<linearGradient id="s98" gradientUnits="userSpaceOnUse" x1="0" y1="0" x2="0" y2="3.2"><stop offset="0.000" stop-color="#2de0e8"/><stop offset="0.059" stop-color="#2ee0e8"/><stop offset="0.118" stop-color="#30e0e8"/><stop offset="0.176" stop-color="#31e0e8"/><stop offset="0.235" stop-color="#33e1e9"/><stop offset="0.294" stop-color="#34e1e9"/><stop offset="0.353" stop-color="#36e1e9"/><stop offset="0.412" stop-color="#37e1e9"/><stop offset="0.471" stop-color="#39e1e9"/><stop offset="0.529" stop-color="#3ae1e9"/><stop offset="0.588" stop-color="#3ce2ea"/><stop offset="0.647" stop-color="#3de1e9"/><stop offset="0.706" stop-color="#3ee1e9"/><stop offset="0.765" stop-color="#3ddbe3"/><stop offset="0.824" stop-color="#3cd6de"/><stop offset="0.882" stop-color="#3bd1d9"/><stop offset="0.941" stop-color="#3accd4"/><stop offset="1.000" stop-color="#3ac6ce"/></linearGradient>
<linearGradient id="s99" gradientUnits="userSpaceOnUse" x1="0" y1="0" x2="0" y2="3.4"><stop offset="0.000" stop-color="#2be0e8"/><stop offset="0.059" stop-color="#2de0e8"/><stop offset="0.118" stop-color="#2fe0e8"/><stop offset="0.176" stop-color="#31e1e9"/><stop offset="0.235" stop-color="#33e1e9"/><stop offset="0.294" stop-color="#35e1e9"/><stop offset="0.353" stop-color="#36e1e9"/><stop offset="0.412" stop-color="#38e2ea"/><stop offset="0.471" stop-color="#3ae2ea"/><stop offset="0.529" stop-color="#3ce2ea"/><stop offset="0.588" stop-color="#3ee2ea"/><stop offset="0.647" stop-color="#3fe2ea"/><stop offset="0.706" stop-color="#40e1e9"/><stop offset="0.765" stop-color="#40dde5"/><stop offset="0.824" stop-color="#40d8e0"/><stop offset="0.882" stop-color="#3fd3db"/><stop offset="0.941" stop-color="#3fced6"/><stop offset="1.000" stop-color="#3ecad2"/></linearGradient>
<linearGradient id="s100" gradientUnits="userSpaceOnUse" x1="0" y1="0" x2="0" y2="3.6"><stop offset="0.000" stop-color="#2ae0e8"/><stop offset="0.059" stop-color="#2ce0e8"/><stop offset="0.118" stop-color="#2ee1e9"/><stop offset="0.176" stop-color="#30e1e9"/><stop offset="0.235" stop-color="#33e1e9"/><stop offset="0.294" stop-color="#35e2ea"/><stop offset="0.353" stop-color="#37e2ea"/><stop offset="0.412" stop-color="#3ae2ea"/><stop offset="0.471" stop-color="#3ce3eb"/><stop offset="0.529" stop-color="#3ee3eb"/><stop offset="0.588" stop-color="#40e3eb"/><stop offset="0.647" stop-color="#42e3eb"/><stop offset="0.706" stop-color="#43e2ea"/><stop offset="0.765" stop-color="#43dee6"/><stop offset="0.824" stop-color="#43dae2"/><stop offset="0.882" stop-color="#43d5dd"/><stop offset="0.941" stop-color="#43d1d9"/><stop offset="1.000" stop-color="#43cdd5"/></linearGradient>
<linearGradient id="s101" gradientUnits="userSpaceOnUse" x1="0" y1="0" x2="0" y2="3.8"><stop offset="0.000" stop-color="#28e0e8"/><stop offset="0.059" stop-color="#2be0e8"/><stop offset="0.118" stop-color="#2de1e9"/><stop offset="0.176" stop-color="#30e1e9"/><stop offset="0.235" stop-color="#33e2ea"/><stop offset="0.294" stop-color="#35e2ea"/><stop offset="0.353" stop-color="#38e2ea"/><stop offset="0.412" stop-color="#3be3eb"/><stop offset="0.471" stop-color="#3ee3eb"/><stop offset="0.529" stop-color="#40e4ec"/><stop offset="0.588" stop-color="#43e4ec"/><stop offset="0.647" stop-color="#45e4ec"/><stop offset="0.706" stop-color="#46e3eb"/><stop offset="0.765" stop-color="#46dfe7"/><stop offset="0.824" stop-color="#47dbe3"/><stop offset="0.882" stop-color="#47d7df"/><stop offset="0.941" stop-color="#48d4dc"/><stop offset="1.000" stop-color="#48d0d8"/></linearGradient>
<linearGradient id="s102" gradientUnits="userSpaceOnUse" x1="0" y1="0" x2="0" y2="4.0"><stop offset="0.000" stop-color="#26e0e8"/><stop offset="0.059" stop-color="#29e0e8"/><stop offset="0.118" stop-color="#2de1e9"/><stop offset="0.176" stop-color="#30e1e9"/><stop offset="0.235" stop-color="#33e2ea"/><stop offset="0.294" stop-color="#36e2ea"/><stop offset="0.353" stop-color="#39e3eb"/><stop offset="0.412" stop-color="#3ce3eb"/><stop offset="0.471" stop-color="#3fe4ec"/><stop offset="0.529" stop-color="#42e4ec"/><stop offset="0.588" stop-color="#45e5ed"/><stop offset="0.647" stop-color="#47e4ec"/><stop offset="0.706" stop-color="#49e3eb"/><stop offset="0.765" stop-color="#4ae0e8"/><stop offset="0.824" stop-color="#4adde5"/><stop offset="0.882" stop-color="#4bdae2"/><stop offset="0.941" stop-color="#4cd6de"/><stop offset="1.000" stop-color="#4dd3db"/></linearGradient>
<linearGradient id="s103" gradientUnits="userSpaceOnUse" x1="0" y1="0" x2="0" y2="4.3"><stop offset="0.000" stop-color="#25e0e8"/><stop offset="0.059" stop-color="#28e1e9"/><stop offset="0.118" stop-color="#2ce1e9"/><stop offset="0.176" stop-color="#2fe2ea"/><stop offset="0.235" stop-color="#33e2ea"/><stop offset="0.294" stop-color="#36e3eb"/><stop offset="0.353" stop-color="#3ae3eb"/><stop offset="0.412" stop-color="#3de4ec"/><stop offset="0.471" stop-color="#41e4ec"/><stop offset="0.529" stop-color="#44e5ed"/><stop offset="0.588" stop-color="#48e5ed"/><stop offset="0.647" stop-color="#4ae5ed"/><stop offset="0.706" stop-color="#4ce4ec"/><stop offset="0.765" stop-color="#4de1e9"/><stop offset="0.824" stop-color="#4edfe7"/><stop offset="0.882" stop-color="#4fdce4"/><stop offset="0.941" stop-color="#50d9e1"/><stop offset="1.000" stop-color="#52d6de"/></linearGradient>
<linearGradient id="s104" gradientUnits="userSpaceOnUse" x1="0" y1="0" x2="0" y2="4.6"><stop offset="0.000" stop-color="#23e0e8"/><stop offset="0.059" stop-color="#27e1e9"/><stop offset="0.118" stop-color="#2be1e9"/><stop offset="0.176" stop-color="#2fe2ea"/><stop offset="0.235" stop-color="#33e3eb"/><stop offset="0.294" stop-color="#37e3eb"/><stop offset="0.353" stop-color="#3be4ec"/><stop offset="0.412" stop-color="#3ee4ec"/><stop offset="0.471" stop-color="#42e5ed"/><stop offset="0.529" stop-color="#46e6ee"/><stop offset="0.588" stop-color="#4ae6ee"/><stop offset="0.647" stop-color="#4de6ee"/><stop offset="0.706" stop-color="#4fe5ed"/><stop offset="0.765" stop-color="#50e2ea"/><stop offset="0.824" stop-color="#52e0e8"/><stop offset="0.882" stop-color="#53dee6"/><stop offset="0.941" stop-color="#55dce4"/><stop offset="1.000" stop-color="#56dae2"/></linearGradient>
<linearGradient id="s105" gradientUnits="userSpaceOnUse" x1="0" y1="0" x2="0" y2="4.8"><stop offset="0.000" stop-color="#22e0e8"/><stop offset="0.059" stop-color="#26e1e9"/><stop offset="0.118" stop-color="#2ae1e9"/><stop offset="0.176" stop-color="#2fe2ea"/><stop offset="0.235" stop-color="#33e3eb"/><stop offset="0.294" stop-color="#37e4ec"/><stop offset="0.353" stop-color="#3be4ec"/><stop offset="0.412" stop-color="#40e5ed"/><stop offset="0.471" stop-color="#44e6ee"/><stop offset="0.529" stop-color="#48e6ee"/><stop offset="0.588" stop-color="#4de7ef"/><stop offset="0.647" stop-color="#4fe6ee"/><stop offset="0.706" stop-color="#51e5ed"/><stop offset="0.765" stop-color="#53e4ec"/><stop offset="0.824" stop-color="#55e2ea"/><stop offset="0.882" stop-color="#57e0e8"/><stop offset="0.941" stop-color="#59dee6"/><stop offset="1.000" stop-color="#5bdde5"/></linearGradient>
<linearGradient id="s106" gradientUnits="userSpaceOnUse" x1="0" y1="0" x2="0" y2="5.0"><stop offset="0.000" stop-color="#20e0e8"/><stop offset="0.059" stop-color="#25e1e9"/><stop offset="0.118" stop-color="#29e2ea"/><stop offset="0.176" stop-color="#2ee2ea"/><stop offset="0.235" stop-color="#33e3eb"/><stop offset="0.294" stop-color="#38e4ec"/><stop offset="0.353" stop-color="#3ce5ed"/><stop offset="0.412" stop-color="#41e5ed"/><stop offset="0.471" stop-color="#46e6ee"/><stop offset="0.529" stop-color="#4ae7ef"/><stop offset="0.588" stop-color="#4fe8f0"/><stop offset="0.647" stop-color="#52e7ef"/><stop offset="0.706" stop-color="#54e6ee"/><stop offset="0.765" stop-color="#57e5ed"/><stop offset="0.824" stop-color="#59e4ec"/><stop offset="0.882" stop-color="#5be2ea"/><stop offset="0.941" stop-color="#5ee1e9"/><stop offset="1.000" stop-color="#60e0e8"/></linearGradient>
<linearGradient id="s107" gradientUnits="userSpaceOnUse" x1="0" y1="0" x2="0" y2="5.2"><stop offset="0.000" stop-color="#1edfe8"/><stop offset="0.059" stop-color="#23e0e9"/><stop offset="0.118" stop-color="#28e1ea"/><stop offset="0.176" stop-color="#2ce2ea"/><stop offset="0.235" stop-color="#31e3eb"/><stop offset="0.294" stop-color="#36e3ec"/><stop offset="0.353" stop-color="#3be4ed"/><stop offset="0.412" stop-color="#40e5ee"/><stop offset="0.471" stop-color="#45e6ee"/><stop offset="0.529" stop-color="#4ae7ef"/><stop offset="0.588" stop-color="#50e8f0"/><stop offset="0.647" stop-color="#55e8f0"/><stop offset="0.706" stop-color="#59e7ef"/><stop offset="0.765" stop-color="#5de6ee"/><stop offset="0.824" stop-color="#61e6ed"/><stop offset="0.882" stop-color="#65e5ec"/><stop offset="0.941" stop-color="#68e3eb"/><stop offset="1.000" stop-color="#6be2ea"/></linearGradient>
<linearGradient id="s108" gradientUnits="userSpaceOnUse" x1="0" y1="0" x2="0" y2="5.4"><stop offset="0.000" stop-color="#1cdfe8"/><stop offset="0.059" stop-color="#21e0e9"/><stop offset="0.118" stop-color="#26e1ea"/><stop offset="0.176" stop-color="#2be1ea"/><stop offset="0.235" stop-color="#30e2eb"/><stop offset="0.294" stop-color="#35e3ec"/><stop offset="0.353" stop-color="#39e4ed"/><stop offset="0.412" stop-color="#3ee5ee"/><stop offset="0.471" stop-color="#43e6ef"/><stop offset="0.529" stop-color="#4ae7ef"/><stop offset="0.588" stop-color="#51e8f0"/><stop offset="0.647" stop-color="#58e8f0"/><stop offset="0.706" stop-color="#5ee8f0"/><stop offset="0.765" stop-color="#64e8ef"/><stop offset="0.824" stop-color="#6ae8ef"/><stop offset="0.882" stop-color="#6fe7ee"/><stop offset="0.941" stop-color="#72e6ec"/><stop offset="1.000" stop-color="#75e4eb"/></linearGradient>
<linearGradient id="s109" gradientUnits="userSpaceOnUse" x1="0" y1="0" x2="0" y2="5.6"><stop offset="0.000" stop-color="#1adee8"/><stop offset="0.059" stop-color="#1fdfe9"/><stop offset="0.118" stop-color="#24e0ea"/><stop offset="0.176" stop-color="#29e1eb"/><stop offset="0.235" stop-color="#2ee2eb"/><stop offset="0.294" stop-color="#33e3ec"/><stop offset="0.353" stop-color="#38e3ed"/><stop offset="0.412" stop-color="#3de4ee"/><stop offset="0.471" stop-color="#42e5ef"/><stop offset="0.529" stop-color="#49e6f0"/><stop offset="0.588" stop-color="#53e8f1"/><stop offset="0.647" stop-color="#5be9f1"/><stop offset="0.706" stop-color="#63e9f1"/><stop offset="0.765" stop-color="#6be9f0"/><stop offset="0.824" stop-color="#72eaf0"/><stop offset="0.882" stop-color="#78e9ef"/><stop offset="0.941" stop-color="#7ce8ee"/><stop offset="1.000" stop-color="#80e6ed"/></linearGradient>
<linearGradient id="s110" gradientUnits="userSpaceOnUse" x1="0" y1="0" x2="0" y2="6.0"><stop offset="0.000" stop-color="#17dee8"/><stop offset="0.059" stop-color="#1ddfe9"/><stop offset="0.118" stop-color="#22e0ea"/><stop offset="0.176" stop-color="#27e0eb"/><stop offset="0.235" stop-color="#2ce1eb"/><stop offset="0.294" stop-color="#32e2ec"/><stop offset="0.353" stop-color="#37e3ed"/><stop offset="0.412" stop-color="#3ce4ee"/><stop offset="0.471" stop-color="#41e5ef"/><stop offset="0.529" stop-color="#49e6f0"/><stop offset="0.588" stop-color="#54e8f1"/><stop offset="0.647" stop-color="#5ee9f1"/><stop offset="0.706" stop-color="#68eaf2"/><stop offset="0.765" stop-color="#71ebf2"/><stop offset="0.824" stop-color="#7becf2"/><stop offset="0.882" stop-color="#82ebf1"/><stop offset="0.941" stop-color="#86eaf0"/><stop offset="1.000" stop-color="#8be9ee"/></linearGradient>
<linearGradient id="s111" gradientUnits="userSpaceOnUse" x1="0" y1="0" x2="0" y2="6.7"><stop offset="0.000" stop-color="#15dde8"/><stop offset="0.059" stop-color="#1bdee9"/><stop offset="0.118" stop-color="#20dfea"/><stop offset="0.176" stop-color="#25e0eb"/><stop offset="0.235" stop-color="#2be1ec"/><stop offset="0.294" stop-color="#30e2ec"/><stop offset="0.353" stop-color="#35e3ed"/><stop offset="0.412" stop-color="#3be4ee"/><stop offset="0.471" stop-color="#40e4ef"/><stop offset="0.529" stop-color="#49e6f0"/><stop offset="0.588" stop-color="#55e8f1"/><stop offset="0.647" stop-color="#61eaf2"/><stop offset="0.706" stop-color="#6cebf2"/><stop offset="0.765" stop-color="#78ecf3"/><stop offset="0.824" stop-color="#83eef3"/><stop offset="0.882" stop-color="#8beef3"/><stop offset="0.941" stop-color="#90ecf1"/><stop offset="1.000" stop-color="#95ebf0"/></linearGradient>
<linearGradient id="s112" gradientUnits="userSpaceOnUse" x1="0" y1="0" x2="0" y2="7.5"><stop offset="0.000" stop-color="#13dde8"/><stop offset="0.059" stop-color="#19dee9"/><stop offset="0.118" stop-color="#1edfea"/><stop offset="0.176" stop-color="#24e0eb"/><stop offset="0.235" stop-color="#29e0ec"/><stop offset="0.294" stop-color="#2ee1ed"/><stop offset="0.353" stop-color="#34e2ed"/><stop offset="0.412" stop-color="#39e3ee"/><stop offset="0.471" stop-color="#3fe4ef"/><stop offset="0.529" stop-color="#49e6f0"/><stop offset="0.588" stop-color="#56e8f2"/><stop offset="0.647" stop-color="#64eaf3"/><stop offset="0.706" stop-color="#71ecf3"/><stop offset="0.765" stop-color="#7feef4"/><stop offset="0.824" stop-color="#8cf0f5"/><stop offset="0.882" stop-color="#95f0f5"/><stop offset="0.941" stop-color="#9beef3"/><stop offset="1.000" stop-color="#a0edf2"/></linearGradient>
<linearGradient id="s113" gradientUnits="userSpaceOnUse" x1="0" y1="0" x2="0" y2="8.4"><stop offset="0.000" stop-color="#11dce8"/><stop offset="0.059" stop-color="#17dde9"/><stop offset="0.118" stop-color="#1cdeea"/><stop offset="0.176" stop-color="#22dfeb"/><stop offset="0.235" stop-color="#27e0ec"/><stop offset="0.294" stop-color="#2de1ed"/><stop offset="0.353" stop-color="#33e2ee"/><stop offset="0.412" stop-color="#38e3ef"/><stop offset="0.471" stop-color="#3ee4ef"/><stop offset="0.529" stop-color="#48e5f1"/><stop offset="0.588" stop-color="#58e8f2"/><stop offset="0.647" stop-color="#67eaf3"/><stop offset="0.706" stop-color="#76edf4"/><stop offset="0.765" stop-color="#85eff5"/><stop offset="0.824" stop-color="#94f2f7"/><stop offset="0.882" stop-color="#9ff2f6"/><stop offset="0.941" stop-color="#a5f0f5"/><stop offset="1.000" stop-color="#abeff3"/></linearGradient>
<linearGradient id="s114" gradientUnits="userSpaceOnUse" x1="0" y1="0" x2="0" y2="9.5"><stop offset="0.000" stop-color="#10dce8"/><stop offset="0.059" stop-color="#16dde9"/><stop offset="0.118" stop-color="#1bdeea"/><stop offset="0.176" stop-color="#21dfeb"/><stop offset="0.235" stop-color="#27e0ec"/><stop offset="0.294" stop-color="#2ce1ed"/><stop offset="0.353" stop-color="#33e2ee"/><stop offset="0.412" stop-color="#39e3ef"/><stop offset="0.471" stop-color="#40e4f0"/><stop offset="0.529" stop-color="#4be6f1"/><stop offset="0.588" stop-color="#5be9f2"/><stop offset="0.647" stop-color="#6bebf3"/><stop offset="0.706" stop-color="#7beef5"/><stop offset="0.765" stop-color="#8bf1f6"/><stop offset="0.824" stop-color="#9bf3f8"/><stop offset="0.882" stop-color="#a6f4f7"/><stop offset="0.941" stop-color="#acf2f6"/><stop offset="1.000" stop-color="#b3f1f4"/></linearGradient>
<linearGradient id="s115" gradientUnits="userSpaceOnUse" x1="0" y1="0" x2="0" y2="10.8"><stop offset="0.000" stop-color="#10dce8"/><stop offset="0.059" stop-color="#16dde9"/><stop offset="0.118" stop-color="#1cdeea"/><stop offset="0.176" stop-color="#21dfeb"/><stop offset="0.235" stop-color="#27e0ec"/><stop offset="0.294" stop-color="#2de1ed"/><stop offset="0.353" stop-color="#35e2ee"/><stop offset="0.412" stop-color="#3de3ef"/><stop offset="0.471" stop-color="#45e5f0"/><stop offset="0.529" stop-color="#51e7f1"/><stop offset="0.588" stop-color="#61eaf2"/><stop offset="0.647" stop-color="#71ecf4"/><stop offset="0.706" stop-color="#81eff5"/><stop offset="0.765" stop-color="#90f1f7"/><stop offset="0.824" stop-color="#a0f4f8"/><stop offset="0.882" stop-color="#acf5f8"/><stop offset="0.941" stop-color="#b2f3f7"/><stop offset="1.000" stop-color="#b8f2f5"/></linearGradient>
<linearGradient id="s116" gradientUnits="userSpaceOnUse" x1="0" y1="0" x2="0" y2="12.3"><stop offset="0.000" stop-color="#10dce8"/><stop offset="0.059" stop-color="#16dde9"/><stop offset="0.118" stop-color="#1cdeea"/><stop offset="0.176" stop-color="#22dfeb"/><stop offset="0.235" stop-color="#27e0ec"/><stop offset="0.294" stop-color="#2de0ec"/><stop offset="0.353" stop-color="#36e2ee"/><stop offset="0.412" stop-color="#40e4ef"/><stop offset="0.471" stop-color="#49e5f0"/><stop offset="0.529" stop-color="#56e8f1"/><stop offset="0.588" stop-color="#67eaf3"/><stop offset="0.647" stop-color="#77edf4"/><stop offset="0.706" stop-color="#86f0f5"/><stop offset="0.765" stop-color="#96f2f7"/><stop offset="0.824" stop-color="#a5f5f8"/><stop offset="0.882" stop-color="#b1f6f9"/><stop offset="0.941" stop-color="#b8f5f7"/><stop offset="1.000" stop-color="#bdf3f6"/></linearGradient>
<linearGradient id="s117" gradientUnits="userSpaceOnUse" x1="0" y1="0" x2="0" y2="13.8"><stop offset="0.000" stop-color="#10dce8"/><stop offset="0.059" stop-color="#16dde9"/><stop offset="0.118" stop-color="#1cdeea"/><stop offset="0.176" stop-color="#22dfeb"/><stop offset="0.235" stop-color="#28dfeb"/><stop offset="0.294" stop-color="#2ee0ec"/><stop offset="0.353" stop-color="#38e2ee"/><stop offset="0.412" stop-color="#43e4ef"/><stop offset="0.471" stop-color="#4ee6f0"/><stop offset="0.529" stop-color="#5ce9f1"/><stop offset="0.588" stop-color="#6debf3"/><stop offset="0.647" stop-color="#7ceef4"/><stop offset="0.706" stop-color="#8cf1f6"/><stop offset="0.765" stop-color="#9bf3f7"/><stop offset="0.824" stop-color="#aaf6f9"/><stop offset="0.882" stop-color="#b6f7f9"/><stop offset="0.941" stop-color="#bdf6f8"/><stop offset="1.000" stop-color="#c3f5f7"/></linearGradient>
<linearGradient id="s118" gradientUnits="userSpaceOnUse" x1="0" y1="0" x2="0" y2="15.4"><stop offset="0.000" stop-color="#10dce8"/><stop offset="0.059" stop-color="#16dde9"/><stop offset="0.118" stop-color="#1cdeea"/><stop offset="0.176" stop-color="#22dfeb"/><stop offset="0.235" stop-color="#28dfeb"/><stop offset="0.294" stop-color="#2ee0ec"/><stop offset="0.353" stop-color="#3ae2ee"/><stop offset="0.412" stop-color="#47e5ef"/><stop offset="0.471" stop-color="#53e7f0"/><stop offset="0.529" stop-color="#62e9f2"/><stop offset="0.588" stop-color="#73ecf3"/><stop offset="0.647" stop-color="#82eff4"/><stop offset="0.706" stop-color="#91f2f6"/><stop offset="0.765" stop-color="#a0f4f7"/><stop offset="0.824" stop-color="#aff6f9"/><stop offset="0.882" stop-color="#bcf8fa"/><stop offset="0.941" stop-color="#c3f7f9"/><stop offset="1.000" stop-color="#c8f6f8"/></linearGradient>
<linearGradient id="s119" gradientUnits="userSpaceOnUse" x1="0" y1="0" x2="0" y2="16.9"><stop offset="0.000" stop-color="#10dce8"/><stop offset="0.059" stop-color="#16dde9"/><stop offset="0.118" stop-color="#1cdeea"/><stop offset="0.176" stop-color="#22deea"/><stop offset="0.235" stop-color="#28dfeb"/><stop offset="0.294" stop-color="#2fe0ec"/><stop offset="0.353" stop-color="#3ce3ed"/><stop offset="0.412" stop-color="#4ae5ef"/><stop offset="0.471" stop-color="#58e8f0"/><stop offset="0.529" stop-color="#68eaf2"/><stop offset="0.588" stop-color="#79edf3"/><stop offset="0.647" stop-color="#88f0f5"/><stop offset="0.706" stop-color="#96f2f6"/><stop offset="0.765" stop-color="#a5f5f8"/><stop offset="0.824" stop-color="#b4f7f9"/><stop offset="0.882" stop-color="#c1f9fa"/><stop offset="0.941" stop-color="#c8f9fa"/><stop offset="1.000" stop-color="#cdf7f8"/></linearGradient>
<linearGradient id="s120" gradientUnits="userSpaceOnUse" x1="0" y1="0" x2="0" y2="18.4"><stop offset="0.000" stop-color="#10dce8"/><stop offset="0.059" stop-color="#16dde9"/><stop offset="0.118" stop-color="#1cdeea"/><stop offset="0.176" stop-color="#23deea"/><stop offset="0.235" stop-color="#29dfeb"/><stop offset="0.294" stop-color="#2fe0ec"/><stop offset="0.353" stop-color="#3ee3ed"/><stop offset="0.412" stop-color="#4de6ef"/><stop offset="0.471" stop-color="#5de8f0"/><stop offset="0.529" stop-color="#6eebf2"/><stop offset="0.588" stop-color="#7feef3"/><stop offset="0.647" stop-color="#8ef1f5"/><stop offset="0.706" stop-color="#9cf3f7"/><stop offset="0.765" stop-color="#aaf6f8"/><stop offset="0.824" stop-color="#b9f8fa"/><stop offset="0.882" stop-color="#c6fafb"/><stop offset="0.941" stop-color="#cefafa"/><stop offset="1.000" stop-color="#d3f9f9"/></linearGradient>
<linearGradient id="s121" gradientUnits="userSpaceOnUse" x1="0" y1="0" x2="0" y2="20.0"><stop offset="0.000" stop-color="#10dce8"/><stop offset="0.059" stop-color="#16dde9"/><stop offset="0.118" stop-color="#1ddeea"/><stop offset="0.176" stop-color="#23deea"/><stop offset="0.235" stop-color="#29dfeb"/><stop offset="0.294" stop-color="#2fe0ec"/><stop offset="0.353" stop-color="#40e3ed"/><stop offset="0.412" stop-color="#51e6ef"/><stop offset="0.471" stop-color="#62e9f1"/><stop offset="0.529" stop-color="#73ecf2"/><stop offset="0.588" stop-color="#85eff4"/><stop offset="0.647" stop-color="#93f2f5"/><stop offset="0.706" stop-color="#a1f4f7"/><stop offset="0.765" stop-color="#b0f7f8"/><stop offset="0.824" stop-color="#bef9fa"/><stop offset="0.882" stop-color="#ccfbfc"/><stop offset="0.941" stop-color="#d3fbfb"/><stop offset="1.000" stop-color="#d8fafa"/></linearGradient>
<linearGradient id="s122" gradientUnits="userSpaceOnUse" x1="0" y1="0" x2="0" y2="21.8"><stop offset="0.000" stop-color="#11dce8"/><stop offset="0.059" stop-color="#17dde9"/><stop offset="0.118" stop-color="#1ddeea"/><stop offset="0.176" stop-color="#23deea"/><stop offset="0.235" stop-color="#29dfeb"/><stop offset="0.294" stop-color="#2fe0ec"/><stop offset="0.353" stop-color="#3fe3ed"/><stop offset="0.412" stop-color="#50e6ef"/><stop offset="0.471" stop-color="#61e9f1"/><stop offset="0.529" stop-color="#72ecf2"/><stop offset="0.588" stop-color="#83eff4"/><stop offset="0.647" stop-color="#93f2f5"/><stop offset="0.706" stop-color="#a2f4f7"/><stop offset="0.765" stop-color="#b1f7f9"/><stop offset="0.824" stop-color="#c0f9fa"/><stop offset="0.882" stop-color="#cffcfc"/><stop offset="0.941" stop-color="#d7fcfc"/><stop offset="1.000" stop-color="#dcfbfb"/></linearGradient>
<linearGradient id="s123" gradientUnits="userSpaceOnUse" x1="0" y1="0" x2="0" y2="23.7"><stop offset="0.000" stop-color="#11dce8"/><stop offset="0.059" stop-color="#17dde9"/><stop offset="0.118" stop-color="#1ddeea"/><stop offset="0.176" stop-color="#23deea"/><stop offset="0.235" stop-color="#29dfeb"/><stop offset="0.294" stop-color="#2fe0ec"/><stop offset="0.353" stop-color="#3fe3ed"/><stop offset="0.412" stop-color="#50e6ef"/><stop offset="0.471" stop-color="#60e9f1"/><stop offset="0.529" stop-color="#71ecf2"/><stop offset="0.588" stop-color="#82eff4"/><stop offset="0.647" stop-color="#92f2f5"/><stop offset="0.706" stop-color="#a2f5f7"/><stop offset="0.765" stop-color="#b2f7f9"/><stop offset="0.824" stop-color="#c2fafb"/><stop offset="0.882" stop-color="#d2fcfd"/><stop offset="0.941" stop-color="#dafdfd"/><stop offset="1.000" stop-color="#dffcfc"/></linearGradient>
<linearGradient id="s124" gradientUnits="userSpaceOnUse" x1="0" y1="0" x2="0" y2="25.9"><stop offset="0.000" stop-color="#12dce8"/><stop offset="0.059" stop-color="#18dde9"/><stop offset="0.118" stop-color="#1edeea"/><stop offset="0.176" stop-color="#24deea"/><stop offset="0.235" stop-color="#2adfeb"/><stop offset="0.294" stop-color="#2fe0ec"/><stop offset="0.353" stop-color="#3fe3ed"/><stop offset="0.412" stop-color="#4fe6ef"/><stop offset="0.471" stop-color="#60e9f1"/><stop offset="0.529" stop-color="#70ecf2"/><stop offset="0.588" stop-color="#80eff4"/><stop offset="0.647" stop-color="#91f2f6"/><stop offset="0.706" stop-color="#a2f5f7"/><stop offset="0.765" stop-color="#b3f7f9"/><stop offset="0.824" stop-color="#c5fafb"/><stop offset="0.882" stop-color="#d6fdfd"/><stop offset="0.941" stop-color="#defdfd"/><stop offset="1.000" stop-color="#e3fdfd"/></linearGradient>
<linearGradient id="s125" gradientUnits="userSpaceOnUse" x1="0" y1="0" x2="0" y2="28.1"><stop offset="0.000" stop-color="#13dce8"/><stop offset="0.059" stop-color="#19dde9"/><stop offset="0.118" stop-color="#1edeea"/><stop offset="0.176" stop-color="#24deea"/><stop offset="0.235" stop-color="#2adfeb"/><stop offset="0.294" stop-color="#2fe0ec"/><stop offset="0.353" stop-color="#3fe3ed"/><stop offset="0.412" stop-color="#4fe6ef"/><stop offset="0.471" stop-color="#5fe9f1"/><stop offset="0.529" stop-color="#6fecf2"/><stop offset="0.588" stop-color="#7feff4"/><stop offset="0.647" stop-color="#91f2f6"/><stop offset="0.706" stop-color="#a3f5f8"/><stop offset="0.765" stop-color="#b5f8fa"/><stop offset="0.824" stop-color="#c7fbfc"/><stop offset="0.882" stop-color="#d9fdfe"/><stop offset="0.941" stop-color="#e2fefe"/><stop offset="1.000" stop-color="#e6fefe"/></linearGradient>
<linearGradient id="s126" gradientUnits="userSpaceOnUse" x1="0" y1="0" x2="0" y2="30.5"><stop offset="0.000" stop-color="#14dce8"/><stop offset="0.059" stop-color="#19dde9"/><stop offset="0.118" stop-color="#1fdeea"/><stop offset="0.176" stop-color="#24deea"/><stop offset="0.235" stop-color="#2adfeb"/><stop offset="0.294" stop-color="#2fe0ec"/><stop offset="0.353" stop-color="#3ee3ed"/><stop offset="0.412" stop-color="#4ee6ef"/><stop offset="0.471" stop-color="#5ee9f1"/><stop offset="0.529" stop-color="#6eecf2"/><stop offset="0.588" stop-color="#7eeff4"/><stop offset="0.647" stop-color="#90f2f6"/><stop offset="0.706" stop-color="#a3f5f8"/><stop offset="0.765" stop-color="#b6f8fa"/><stop offset="0.824" stop-color="#c9fbfc"/><stop offset="0.882" stop-color="#dcfefe"/><stop offset="0.941" stop-color="#e5ffff"/><stop offset="1.000" stop-color="#eafefe"/></linearGradient>
<linearGradient id="s127" gradientUnits="userSpaceOnUse" x1="0" y1="0" x2="0" y2="32.7"><stop offset="0.000" stop-color="#15dce8"/><stop offset="0.059" stop-color="#1adde9"/><stop offset="0.118" stop-color="#20deea"/><stop offset="0.176" stop-color="#25deea"/><stop offset="0.235" stop-color="#2adfeb"/><stop offset="0.294" stop-color="#30e0ec"/><stop offset="0.353" stop-color="#3de3ed"/><stop offset="0.412" stop-color="#4ce6ef"/><stop offset="0.471" stop-color="#5ce9f0"/><stop offset="0.529" stop-color="#6cecf2"/><stop offset="0.588" stop-color="#7ceff3"/><stop offset="0.647" stop-color="#8ff2f5"/><stop offset="0.706" stop-color="#a2f5f8"/><stop offset="0.765" stop-color="#b6f8fa"/><stop offset="0.824" stop-color="#cafbfc"/><stop offset="0.882" stop-color="#defefe"/><stop offset="0.941" stop-color="#e8ffff"/><stop offset="1.000" stop-color="#edffff"/></linearGradient>
<linearGradient id="s128" gradientUnits="userSpaceOnUse" x1="0" y1="0" x2="0" y2="35.1"><stop offset="0.000" stop-color="#17dce8"/><stop offset="0.059" stop-color="#1cdde9"/><stop offset="0.118" stop-color="#21dde9"/><stop offset="0.176" stop-color="#26deea"/><stop offset="0.235" stop-color="#2bdfeb"/><stop offset="0.294" stop-color="#30e0ec"/><stop offset="0.353" stop-color="#3ce2ed"/><stop offset="0.412" stop-color="#49e4ee"/><stop offset="0.471" stop-color="#59e8f0"/><stop offset="0.529" stop-color="#69ebf1"/><stop offset="0.588" stop-color="#79eef3"/><stop offset="0.647" stop-color="#8bf1f5"/><stop offset="0.706" stop-color="#9ff4f7"/><stop offset="0.765" stop-color="#b4f7f9"/><stop offset="0.824" stop-color="#c9fafc"/><stop offset="0.882" stop-color="#defdfe"/><stop offset="0.941" stop-color="#eaffff"/><stop offset="1.000" stop-color="#eeffff"/></linearGradient>
<linearGradient id="s129" gradientUnits="userSpaceOnUse" x1="0" y1="0" x2="0" y2="37.4"><stop offset="0.000" stop-color="#1adce8"/><stop offset="0.059" stop-color="#1edde9"/><stop offset="0.118" stop-color="#23dde9"/><stop offset="0.176" stop-color="#27deea"/><stop offset="0.235" stop-color="#2cdfeb"/><stop offset="0.294" stop-color="#31dfeb"/><stop offset="0.353" stop-color="#3ae1ec"/><stop offset="0.412" stop-color="#45e3ee"/><stop offset="0.471" stop-color="#55e6ef"/><stop offset="0.529" stop-color="#66eaf1"/><stop offset="0.588" stop-color="#76edf2"/><stop offset="0.647" stop-color="#88f0f4"/><stop offset="0.706" stop-color="#9bf3f6"/><stop offset="0.765" stop-color="#b1f6f9"/><stop offset="0.824" stop-color="#c7fafb"/><stop offset="0.882" stop-color="#ddfdfe"/><stop offset="0.941" stop-color="#ecffff"/><stop offset="1.000" stop-color="#f0ffff"/></linearGradient>
<linearGradient id="s130" gradientUnits="userSpaceOnUse" x1="0" y1="0" x2="0" y2="39.8"><stop offset="0.000" stop-color="#1cdce8"/><stop offset="0.059" stop-color="#20dde9"/><stop offset="0.118" stop-color="#25dde9"/><stop offset="0.176" stop-color="#29deea"/><stop offset="0.235" stop-color="#2ddfeb"/><stop offset="0.294" stop-color="#31dfeb"/><stop offset="0.353" stop-color="#38e1ec"/><stop offset="0.412" stop-color="#41e2ed"/><stop offset="0.471" stop-color="#52e5ef"/><stop offset="0.529" stop-color="#63e9f0"/><stop offset="0.588" stop-color="#73ecf2"/><stop offset="0.647" stop-color="#85eff4"/><stop offset="0.706" stop-color="#98f2f5"/><stop offset="0.765" stop-color="#aff5f8"/><stop offset="0.824" stop-color="#c6f9fb"/><stop offset="0.882" stop-color="#ddfdfd"/><stop offset="0.941" stop-color="#eeffff"/><stop offset="1.000" stop-color="#f2ffff"/></linearGradient>
<linearGradient id="s131" gradientUnits="userSpaceOnUse" x1="0" y1="0" x2="0" y2="42.3"><stop offset="0.000" stop-color="#1fdce8"/><stop offset="0.059" stop-color="#22dde9"/><stop offset="0.118" stop-color="#26dde9"/><stop offset="0.176" stop-color="#2adeea"/><stop offset="0.235" stop-color="#2edeea"/><stop offset="0.294" stop-color="#31dfeb"/><stop offset="0.353" stop-color="#36e0ec"/><stop offset="0.412" stop-color="#3de1ed"/><stop offset="0.471" stop-color="#4ee4ee"/><stop offset="0.529" stop-color="#60e7f0"/><stop offset="0.588" stop-color="#71ebf1"/><stop offset="0.647" stop-color="#82eef3"/><stop offset="0.706" stop-color="#94f1f5"/><stop offset="0.765" stop-color="#acf5f7"/><stop offset="0.824" stop-color="#c4f8fa"/><stop offset="0.882" stop-color="#dcfcfd"/><stop offset="0.941" stop-color="#f0ffff"/><stop offset="1.000" stop-color="#f3ffff"/></linearGradient>
<linearGradient id="s132" gradientUnits="userSpaceOnUse" x1="0" y1="0" x2="0" y2="43.6"><stop offset="0.000" stop-color="#20dce8"/><stop offset="0.059" stop-color="#24dde9"/><stop offset="0.118" stop-color="#27dde9"/><stop offset="0.176" stop-color="#2bdeea"/><stop offset="0.235" stop-color="#2edeea"/><stop offset="0.294" stop-color="#32dfeb"/><stop offset="0.353" stop-color="#35e0ec"/><stop offset="0.412" stop-color="#3be1ec"/><stop offset="0.471" stop-color="#4de4ee"/><stop offset="0.529" stop-color="#5ee7ef"/><stop offset="0.588" stop-color="#6feaf1"/><stop offset="0.647" stop-color="#80edf3"/><stop offset="0.706" stop-color="#92f0f4"/><stop offset="0.765" stop-color="#abf4f7"/><stop offset="0.824" stop-color="#c4f8fa"/><stop offset="0.882" stop-color="#dcfcfd"/><stop offset="0.941" stop-color="#f1ffff"/><stop offset="1.000" stop-color="#f4ffff"/></linearGradient>
<linearGradient id="s133" gradientUnits="userSpaceOnUse" x1="0" y1="0" x2="0" y2="43.6"><stop offset="0.000" stop-color="#20dce8"/><stop offset="0.059" stop-color="#24dde9"/><stop offset="0.118" stop-color="#27dde9"/><stop offset="0.176" stop-color="#2bdeea"/><stop offset="0.235" stop-color="#2edeea"/><stop offset="0.294" stop-color="#32dfeb"/><stop offset="0.353" stop-color="#35e0ec"/><stop offset="0.412" stop-color="#3be1ec"/><stop offset="0.471" stop-color="#4de4ee"/><stop offset="0.529" stop-color="#5ee7ef"/><stop offset="0.588" stop-color="#6feaf1"/><stop offset="0.647" stop-color="#80edf3"/><stop offset="0.706" stop-color="#92f0f4"/><stop offset="0.765" stop-color="#abf4f7"/><stop offset="0.824" stop-color="#c4f8fa"/><stop offset="0.882" stop-color="#dcfcfd"/><stop offset="0.941" stop-color="#f1ffff"/><stop offset="1.000" stop-color="#f4ffff"/></linearGradient>
<linearGradient id="s134" gradientUnits="userSpaceOnUse" x1="0" y1="0" x2="0" y2="43.6"><stop offset="0.000" stop-color="#20dce8"/><stop offset="0.059" stop-color="#24dde9"/><stop offset="0.118" stop-color="#27dde9"/><stop offset="0.176" stop-color="#2bdeea"/><stop offset="0.235" stop-color="#2edeea"/><stop offset="0.294" stop-color="#32dfeb"/><stop offset="0.353" stop-color="#35e0ec"/><stop offset="0.412" stop-color="#3be1ec"/><stop offset="0.471" stop-color="#4de4ee"/><stop offset="0.529" stop-color="#5ee7ef"/><stop offset="0.588" stop-color="#6feaf1"/><stop offset="0.647" stop-color="#80edf3"/><stop offset="0.706" stop-color="#92f0f4"/><stop offset="0.765" stop-color="#abf4f7"/><stop offset="0.824" stop-color="#c4f8fa"/><stop offset="0.882" stop-color="#dcfcfd"/><stop offset="0.941" stop-color="#f1ffff"/><stop offset="1.000" stop-color="#f4ffff"/></linearGradient>
<linearGradient id="s135" gradientUnits="userSpaceOnUse" x1="0" y1="0" x2="0" y2="43.6"><stop offset="0.000" stop-color="#20dce8"/><stop offset="0.059" stop-color="#24dde9"/><stop offset="0.118" stop-color="#27dde9"/><stop offset="0.176" stop-color="#2bdeea"/><stop offset="0.235" stop-color="#2edeea"/><stop offset="0.294" stop-color="#32dfeb"/><stop offset="0.353" stop-color="#35e0ec"/><stop offset="0.412" stop-color="#3be1ec"/><stop offset="0.471" stop-color="#4de4ee"/><stop offset="0.529" stop-color="#5ee7ef"/><stop offset="0.588" stop-color="#6feaf1"/><stop offset="0.647" stop-color="#80edf3"/><stop offset="0.706" stop-color="#92f0f4"/><stop offset="0.765" stop-color="#abf4f7"/><stop offset="0.824" stop-color="#c4f8fa"/><stop offset="0.882" stop-color="#dcfcfd"/><stop offset="0.941" stop-color="#f1ffff"/><stop offset="1.000" stop-color="#f4ffff"/></linearGradient>
<clipPath id="swc"><path d="M0,-10 L0,119.3 L8,118.7 L16,118.1 L24,117.5 L32,116.9 L40,116.3 L48,115.7 L56,115.1 L64,114.4 L72,113.7 L80,112.8 L88,111.7 L96,110.3 L104,109.0 L112,107.6 L120,106.3 L128,105.0 L136,103.7 L144,102.5 L152,101.3 L160,100.1 L168,98.8 L176,97.5 L184,96.2 L192,94.7 L200,93.2 L208,91.7 L216,89.9 L224,88.0 L232,85.8 L240,83.4 L248,81.0 L256,78.5 L264,75.9 L272,73.4 L280,71.2 L288,69.3 L296,67.5 L304,65.5 L312,63.4 L320,61.2 L328,59.0 L336,56.7 L344,54.5 L352,52.4 L360,50.2 L368,47.9 L376,45.3 L384,42.5 L392,38.6 L400,35.0 L408,33.1 L416,31.7 L424,30.3 L432,29.1 L440,28.0 L448,26.9 L456,25.8 L464,24.6 L472,23.4 L480,22.2 L488,21.0 L496,19.9 L504,18.7 L512,17.6 L520,16.6 L528,15.7 L536,14.9 L544,14.3 L552,13.8 L560,13.3 L568,12.7 L576,12.1 L584,11.5 L592,10.9 L600,10.2 L608,9.5 L616,8.9 L624,8.3 L632,7.6 L640,6.8 L648,5.8 L656,4.6 L664,3.9 L672,3.5 L680,3.3 L688,3.2 L696,3.2 L704,3.1 L712,3.1 L720,3.0 L728,3.0 L736,3.0 L744,3.0 L752,3.1 L760,3.3 L768,3.5 L776,3.7 L784,3.9 L792,4.2 L800,4.4 L808,4.7 L816,4.9 L824,5.1 L832,5.3 L840,5.5 L848,5.8 L856,6.3 L864,7.1 L872,8.0 L880,8.9 L888,10.1 L896,11.5 L904,13.1 L912,14.6 L920,16.1 L928,17.6 L936,19.2 L944,20.9 L952,22.7 L960,24.8 L968,27.0 L976,29.3 L984,31.6 L992,33.9 L1000,36.2 L1008,38.6 L1016,41.1 L1024,43.6 L1024,-10 Z"/></clipPath>
<filter id="swb" x="-5%" y="-20%" width="110%" height="140%"><feGaussianBlur stdDeviation="5 0.5"/></filter>
<filter id="b1" x="-5%" y="-50%" width="110%" height="200%"><feGaussianBlur stdDeviation="0.6"/></filter>
<linearGradient id="stk" gradientUnits="userSpaceOnUse" x1="60" y1="0" x2="470" y2="0"><stop offset="0" stop-color="#2a1000" stop-opacity="0.5"/><stop offset="0.2" stop-color="#100600"/><stop offset="0.5" stop-color="#000"/><stop offset="0.9" stop-color="#020a02"/><stop offset="1" stop-color="#031003"/></linearGradient>
<linearGradient id="trg" gradientUnits="userSpaceOnUse" x1="995" y1="18.5" x2="1011.8" y2="-7.7"><stop offset="0" stop-color="#0e98a0"/><stop offset="0.22" stop-color="#14a4ac"/><stop offset="0.29" stop-color="#40b8bc"/><stop offset="0.38" stop-color="#88cccc"/><stop offset="0.47" stop-color="#a0d4d4"/><stop offset="0.55" stop-color="#4ca8a8"/><stop offset="0.63" stop-color="#58b0b0"/><stop offset="0.72" stop-color="#a4d8d8"/><stop offset="0.82" stop-color="#78bcbc"/><stop offset="1" stop-color="#68b4b4"/></linearGradient>
<linearGradient id="dkg" gradientUnits="userSpaceOnUse" x1="400" y1="15" x2="402.8" y2="34.1"><stop offset="0" stop-color="#020c02"/><stop offset="0.3" stop-color="#041804"/><stop offset="0.46" stop-color="#0c4014"/><stop offset="0.6" stop-color="#082c0c"/><stop offset="0.72" stop-color="#062008"/><stop offset="0.84" stop-color="#126424"/><stop offset="0.96" stop-color="#188838"/><stop offset="1" stop-color="#0a3010"/></linearGradient>
<linearGradient id="dkmg" gradientUnits="userSpaceOnUse" x1="500" y1="0" x2="548" y2="0"><stop offset="0" stop-color="#fff"/><stop offset="1" stop-color="#000"/></linearGradient>
<mask id="dkm" maskUnits="userSpaceOnUse" x="380" y="-5" width="200" height="60"><rect x="380" y="-5" width="200" height="60" fill="url(#dkmg)"/></mask>
<filter id="nz" x="0" y="0" width="100%" height="100%" color-interpolation-filters="sRGB"><feTurbulence type="fractalNoise" baseFrequency="0.0035 0.42" numOctaves="3" seed="7" result="n"/><feColorMatrix type="matrix" values="3.2 0 0 0 -1.1  3.2 0 0 0 -1.1  3.2 0 0 0 -1.1  0 0 0 0 1"/></filter>
<linearGradient id="nzg" gradientUnits="userSpaceOnUse" x1="380" y1="0" x2="560" y2="0"><stop offset="0" stop-color="#fff"/><stop offset="1" stop-color="#000"/></linearGradient>
<mask id="nzm" maskUnits="userSpaceOnUse" x="-10" y="-10" width="600" height="150"><rect x="-10" y="-10" width="600" height="150" fill="url(#nzg)"/></mask>
<linearGradient id="dkd" gradientUnits="userSpaceOnUse" x1="404" y1="0" x2="505" y2="0"><stop offset="0" stop-color="#000" stop-opacity="0.8"/><stop offset="0.5" stop-color="#000" stop-opacity="0.55"/><stop offset="1" stop-color="#000" stop-opacity="0"/></linearGradient>
</defs>
<g clip-path="url(#swc)">
<g filter="url(#swb)"><rect x="-32.5" y="-6" width="9" height="131.3" fill="url(#s0)"/><rect x="-24.5" y="-6" width="9" height="131.3" fill="url(#s1)"/><rect x="-16.5" y="-6" width="9" height="131.3" fill="url(#s2)"/><rect x="-8.5" y="-6" width="9" height="131.3" fill="url(#s3)"/><rect x="-0.5" y="-6" width="9" height="131.0" fill="url(#s4)"/><rect x="7.5" y="-6" width="9" height="130.4" fill="url(#s5)"/><rect x="15.5" y="-6" width="9" height="129.8" fill="url(#s6)"/><rect x="23.5" y="-6" width="9" height="129.2" fill="url(#s7)"/><rect x="31.5" y="-6" width="9" height="128.6" fill="url(#s8)"/><rect x="39.5" y="-6" width="9" height="128.0" fill="url(#s9)"/><rect x="47.5" y="-6" width="9" height="127.4" fill="url(#s10)"/><rect x="55.5" y="-6" width="9" height="126.8" fill="url(#s11)"/><rect x="63.5" y="-6" width="9" height="126.0" fill="url(#s12)"/><rect x="71.5" y="-6" width="9" height="125.2" fill="url(#s13)"/><rect x="79.5" y="-6" width="9" height="124.3" fill="url(#s14)"/><rect x="87.5" y="-6" width="9" height="123.0" fill="url(#s15)"/><rect x="95.5" y="-6" width="9" height="121.6" fill="url(#s16)"/><rect x="103.5" y="-6" width="9" height="120.3" fill="url(#s17)"/><rect x="111.5" y="-6" width="9" height="119.0" fill="url(#s18)"/><rect x="119.5" y="-6" width="9" height="117.7" fill="url(#s19)"/><rect x="127.5" y="-6" width="9" height="116.4" fill="url(#s20)"/><rect x="135.5" y="-6" width="9" height="115.1" fill="url(#s21)"/><rect x="143.5" y="-6" width="9" height="113.9" fill="url(#s22)"/><rect x="151.5" y="-6" width="9" height="112.7" fill="url(#s23)"/><rect x="159.5" y="-6" width="9" height="111.5" fill="url(#s24)"/><rect x="167.5" y="-6" width="9" height="110.2" fill="url(#s25)"/><rect x="175.5" y="-6" width="9" height="108.9" fill="url(#s26)"/><rect x="183.5" y="-6" width="9" height="107.5" fill="url(#s27)"/><rect x="191.5" y="-6" width="9" height="106.0" fill="url(#s28)"/><rect x="199.5" y="-6" width="9" height="104.5" fill="url(#s29)"/><rect x="207.5" y="-6" width="9" height="102.8" fill="url(#s30)"/><rect x="215.5" y="-6" width="9" height="101.0" fill="url(#s31)"/><rect x="223.5" y="-6" width="9" height="98.9" fill="url(#s32)"/><rect x="231.5" y="-6" width="9" height="96.7" fill="url(#s33)"/><rect x="239.5" y="-6" width="9" height="94.2" fill="url(#s34)"/><rect x="247.5" y="-6" width="9" height="91.7" fill="url(#s35)"/><rect x="255.5" y="-6" width="9" height="89.2" fill="url(#s36)"/><rect x="263.5" y="-6" width="9" height="86.6" fill="url(#s37)"/><rect x="271.5" y="-6" width="9" height="84.2" fill="url(#s38)"/><rect x="279.5" y="-6" width="9" height="82.2" fill="url(#s39)"/><rect x="287.5" y="-6" width="9" height="80.4" fill="url(#s40)"/><rect x="295.5" y="-6" width="9" height="78.5" fill="url(#s41)"/><rect x="303.5" y="-6" width="9" height="76.4" fill="url(#s42)"/><rect x="311.5" y="-6" width="9" height="74.3" fill="url(#s43)"/><rect x="319.5" y="-6" width="9" height="72.1" fill="url(#s44)"/><rect x="327.5" y="-6" width="9" height="69.8" fill="url(#s45)"/><rect x="335.5" y="-6" width="9" height="67.6" fill="url(#s46)"/><rect x="343.5" y="-6" width="9" height="65.4" fill="url(#s47)"/><rect x="351.5" y="-6" width="9" height="63.3" fill="url(#s48)"/><rect x="359.5" y="-6" width="9" height="61.0" fill="url(#s49)"/><rect x="367.5" y="-6" width="9" height="58.6" fill="url(#s50)"/><rect x="375.5" y="-6" width="9" height="56.0" fill="url(#s51)"/><rect x="383.5" y="-6" width="9" height="52.7" fill="url(#s52)"/><rect x="391.5" y="-6" width="9" height="48.5" fill="url(#s53)"/><rect x="399.5" y="-6" width="9" height="46.0" fill="url(#s54)"/><rect x="407.5" y="-6" width="9" height="44.4" fill="url(#s55)"/><rect x="415.5" y="-6" width="9" height="43.0" fill="url(#s56)"/><rect x="423.5" y="-6" width="9" height="41.7" fill="url(#s57)"/><rect x="431.5" y="-6" width="9" height="40.6" fill="url(#s58)"/><rect x="439.5" y="-6" width="9" height="39.5" fill="url(#s59)"/><rect x="447.5" y="-6" width="9" height="38.4" fill="url(#s60)"/><rect x="455.5" y="-6" width="9" height="37.2" fill="url(#s61)"/><rect x="463.5" y="-6" width="9" height="36.0" fill="url(#s62)"/><rect x="471.5" y="-6" width="9" height="34.8" fill="url(#s63)"/><rect x="479.5" y="-6" width="9" height="33.6" fill="url(#s64)"/><rect x="487.5" y="-6" width="9" height="32.4" fill="url(#s65)"/><rect x="495.5" y="-6" width="9" height="31.3" fill="url(#s66)"/><rect x="503.5" y="-6" width="9" height="30.2" fill="url(#s67)"/><rect x="511.5" y="-6" width="9" height="29.1" fill="url(#s68)"/><rect x="519.5" y="-6" width="9" height="28.1" fill="url(#s69)"/><rect x="527.5" y="-6" width="9" height="27.3" fill="url(#s70)"/><rect x="535.5" y="-6" width="9" height="26.6" fill="url(#s71)"/><rect x="543.5" y="-6" width="9" height="26.0" fill="url(#s72)"/><rect x="551.5" y="-6" width="9" height="25.5" fill="url(#s73)"/><rect x="559.5" y="-6" width="9" height="25.0" fill="url(#s74)"/><rect x="567.5" y="-6" width="9" height="24.5" fill="url(#s75)"/><rect x="575.5" y="-6" width="9" height="23.8" fill="url(#s76)"/><rect x="583.5" y="-6" width="9" height="23.2" fill="url(#s77)"/><rect x="591.5" y="-6" width="9" height="22.5" fill="url(#s78)"/><rect x="599.5" y="-6" width="9" height="21.9" fill="url(#s79)"/><rect x="607.5" y="-6" width="9" height="21.2" fill="url(#s80)"/><rect x="615.5" y="-6" width="9" height="20.6" fill="url(#s81)"/><rect x="623.5" y="-6" width="9" height="19.9" fill="url(#s82)"/><rect x="631.5" y="-6" width="9" height="19.2" fill="url(#s83)"/><rect x="639.5" y="-6" width="9" height="18.3" fill="url(#s84)"/><rect x="647.5" y="-6" width="9" height="17.2" fill="url(#s85)"/><rect x="655.5" y="-6" width="9" height="16.1" fill="url(#s86)"/><rect x="663.5" y="-6" width="9" height="15.7" fill="url(#s87)"/><rect x="671.5" y="-6" width="9" height="15.4" fill="url(#s88)"/><rect x="679.5" y="-6" width="9" height="15.3" fill="url(#s89)"/><rect x="687.5" y="-6" width="9" height="15.2" fill="url(#s90)"/><rect x="695.5" y="-6" width="9" height="15.1" fill="url(#s91)"/><rect x="703.5" y="-6" width="9" height="15.1" fill="url(#s92)"/><rect x="711.5" y="-6" width="9" height="15.0" fill="url(#s93)"/><rect x="719.5" y="-6" width="9" height="15.0" fill="url(#s94)"/><rect x="727.5" y="-6" width="9" height="15.0" fill="url(#s95)"/><rect x="735.5" y="-6" width="9" height="15.0" fill="url(#s96)"/><rect x="743.5" y="-6" width="9" height="15.1" fill="url(#s97)"/><rect x="751.5" y="-6" width="9" height="15.2" fill="url(#s98)"/><rect x="759.5" y="-6" width="9" height="15.4" fill="url(#s99)"/><rect x="767.5" y="-6" width="9" height="15.6" fill="url(#s100)"/><rect x="775.5" y="-6" width="9" height="15.8" fill="url(#s101)"/><rect x="783.5" y="-6" width="9" height="16.0" fill="url(#s102)"/><rect x="791.5" y="-6" width="9" height="16.3" fill="url(#s103)"/><rect x="799.5" y="-6" width="9" height="16.6" fill="url(#s104)"/><rect x="807.5" y="-6" width="9" height="16.8" fill="url(#s105)"/><rect x="815.5" y="-6" width="9" height="17.0" fill="url(#s106)"/><rect x="823.5" y="-6" width="9" height="17.2" fill="url(#s107)"/><rect x="831.5" y="-6" width="9" height="17.4" fill="url(#s108)"/><rect x="839.5" y="-6" width="9" height="17.6" fill="url(#s109)"/><rect x="847.5" y="-6" width="9" height="18.0" fill="url(#s110)"/><rect x="855.5" y="-6" width="9" height="18.7" fill="url(#s111)"/><rect x="863.5" y="-6" width="9" height="19.5" fill="url(#s112)"/><rect x="871.5" y="-6" width="9" height="20.4" fill="url(#s113)"/><rect x="879.5" y="-6" width="9" height="21.5" fill="url(#s114)"/><rect x="887.5" y="-6" width="9" height="22.8" fill="url(#s115)"/><rect x="895.5" y="-6" width="9" height="24.3" fill="url(#s116)"/><rect x="903.5" y="-6" width="9" height="25.8" fill="url(#s117)"/><rect x="911.5" y="-6" width="9" height="27.4" fill="url(#s118)"/><rect x="919.5" y="-6" width="9" height="28.9" fill="url(#s119)"/><rect x="927.5" y="-6" width="9" height="30.4" fill="url(#s120)"/><rect x="935.5" y="-6" width="9" height="32.0" fill="url(#s121)"/><rect x="943.5" y="-6" width="9" height="33.8" fill="url(#s122)"/><rect x="951.5" y="-6" width="9" height="35.7" fill="url(#s123)"/><rect x="959.5" y="-6" width="9" height="37.9" fill="url(#s124)"/><rect x="967.5" y="-6" width="9" height="40.1" fill="url(#s125)"/><rect x="975.5" y="-6" width="9" height="42.5" fill="url(#s126)"/><rect x="983.5" y="-6" width="9" height="44.7" fill="url(#s127)"/><rect x="991.5" y="-6" width="9" height="47.1" fill="url(#s128)"/><rect x="999.5" y="-6" width="9" height="49.4" fill="url(#s129)"/><rect x="1007.5" y="-6" width="9" height="51.8" fill="url(#s130)"/><rect x="1015.5" y="-6" width="9" height="54.3" fill="url(#s131)"/><rect x="1023.5" y="-6" width="9" height="55.6" fill="url(#s132)"/><rect x="1031.5" y="-6" width="9" height="55.6" fill="url(#s133)"/><rect x="1039.5" y="-6" width="9" height="55.6" fill="url(#s134)"/><rect x="1047.5" y="-6" width="9" height="55.6" fill="url(#s135)"/></g>
<g mask="url(#nzm)" style="mix-blend-mode:soft-light" opacity="0.36"><rect x="-20" y="-10" width="620" height="190" filter="url(#nz)" transform="rotate(-4.5)"/></g>
<path d="M60,34.6 L105,32 L150,28.8 L185,25 L200,23.8 L256,20.2 L302,16.6 L335,14.2 L385,12 L400,11.2 L440,11 L470,11 L447,17.6 L430,18.9 L400,19.6 L385,20 L335,22.6 L302,24.4 L256,26.4 L200,28.8 L185,29.2 L150,31.6 L105,34.1 L60,35.2Z" fill="url(#stk)" filter="url(#b1)"/>
<g mask="url(#dkm)"><path d="M440,11 L470,11 L503,-1 L548,-1 L548,14 L535,15 L520,16.6 L500,19.3 L470,23.7 L458,25.5 L420,31 L404,35 L447,17.2 L440,17Z" fill="url(#dkg)" filter="url(#b1)"/><path d="M440,11 L470,11 L503,-1 L548,-1 L548,14 L535,15 L520,16.6 L500,19.3 L470,23.7 L458,25.5 L420,31 L404,35 L447,17.2 L440,17Z" fill="url(#dkd)"/></g>
<path d="M966,-1 L1026,-1 L1026,38 Z" fill="url(#trg)" filter="url(#b1)"/>
</g>
<!--/SWOOSH-->
<!-- title -->
<g fill="#fff" stroke="#fff" stroke-width="0.55" font-size="43.5px">
<text x="43.0" y="61.5" textLength="58.32" lengthAdjust="spacingAndGlyphs">AN</text>
<text x="110.43" y="61.5" textLength="61.03" lengthAdjust="spacingAndGlyphs">LTI</text>
<text x="181.26" y="61.5" textLength="118.29" lengthAdjust="spacingAndGlyphs">RATIO</text>
<text x="312.06" y="61.5" textLength="51.15" lengthAdjust="spacingAndGlyphs">OF</text>
<text x="374.92" y="61.5" textLength="71.02" lengthAdjust="spacingAndGlyphs">450</text>
<text x="447.97" y="61.5" textLength="30.25" lengthAdjust="spacingAndGlyphs">%</text>
<text x="488.81" y="61.5" textLength="55.09" lengthAdjust="spacingAndGlyphs">OR</text>
<text x="554.83" y="61.5" textLength="116.0" lengthAdjust="spacingAndGlyphs">MORE</text>
<text x="683.51" y="61.5" textLength="35.82" lengthAdjust="spacingAndGlyphs">IS</text>
<text x="729.76" y="61.5" textLength="251.81" lengthAdjust="spacingAndGlyphs">CONSIDERED</text>
<text x="461.83" y="106.8" textLength="100.43" lengthAdjust="spacingAndGlyphs">HIGH</text>
</g>
<!-- chart panel -->
<rect x="25.5" y="126" width="973" height="386" fill="#fff"/>
<text x="32.3" y="151" font-size="21.5px" font-weight="bold" fill="#262626" textLength="892" lengthAdjust="spacingAndGlyphs">Chart 1 - Share of high loan-to-income (&gt;4.5x) originations, industry-wide (volume)</text>

<g stroke="#dedede" stroke-width="1">
<line x1="33.2" x2="933.6" y1="419.0" y2="419.0"/>
<line x1="33.2" x2="933.6" y1="393.1" y2="393.1"/>
<line x1="33.2" x2="933.6" y1="367.3" y2="367.3"/>
<line x1="33.2" x2="933.6" y1="341.4" y2="341.4"/>
<line x1="33.2" x2="933.6" y1="315.6" y2="315.6"/>
<line x1="33.2" x2="933.6" y1="289.7" y2="289.7"/>
<line x1="33.2" x2="933.6" y1="263.9" y2="263.9"/>
<line x1="33.2" x2="933.6" y1="238.0" y2="238.0"/>
<line x1="33.2" x2="933.6" y1="212.2" y2="212.2"/>
<line x1="33.2" x2="933.6" y1="186.3" y2="186.3"/>
<line x1="33.2" x2="33.2" y1="419.0" y2="473.5"/>
<line x1="104.3" x2="104.3" y1="419.0" y2="473.5"/>
<line x1="199.1" x2="199.1" y1="419.0" y2="473.5"/>
<line x1="293.8" x2="293.8" y1="419.0" y2="473.5"/>
<line x1="388.6" x2="388.6" y1="419.0" y2="473.5"/>
<line x1="483.4" x2="483.4" y1="419.0" y2="473.5"/>
<line x1="578.2" x2="578.2" y1="419.0" y2="473.5"/>
<line x1="673.0" x2="673.0" y1="419.0" y2="473.5"/>
<line x1="767.7" x2="767.7" y1="419.0" y2="473.5"/>
<line x1="862.5" x2="862.5" y1="419.0" y2="473.5"/>
<line x1="933.6" x2="933.6" y1="419.0" y2="473.5"/>
</g>
<g class="ax" text-anchor="start">
<text x="946.4" y="422.7">0</text>
<text x="946.4" y="396.8">5</text>
<text x="946.4" y="371.0">10</text>
<text x="946.4" y="345.1">15</text>
<text x="946.4" y="319.3">20</text>
<text x="946.4" y="293.4">25</text>
<text x="946.4" y="267.6">30</text>
<text x="946.4" y="241.7">35</text>
<text x="946.4" y="215.9">40</text>
<text x="946.4" y="190.0">45</text>
</g>
<text class="ax" transform="translate(981.4,301.8) rotate(-90)" text-anchor="middle" textLength="48.4" lengthAdjust="spacingAndGlyphs" style="font-size:13px">Percent</text>
<g class="ax" text-anchor="middle">
<text x="45.0" y="440.7">Q2</text>
<text x="68.7" y="440.7">Q3</text>
<text x="92.4" y="440.7">Q4</text>
<text x="116.1" y="440.7">Q1</text>
<text x="139.8" y="440.7">Q2</text>
<text x="163.5" y="440.7">Q3</text>
<text x="187.2" y="440.7">Q4</text>
<text x="210.9" y="440.7">Q1</text>
<text x="234.6" y="440.7">Q2</text>
<text x="258.3" y="440.7">Q3</text>
<text x="282.0" y="440.7">Q4</text>
<text x="305.7" y="440.7">Q1</text>
<text x="329.4" y="440.7">Q2</text>
<text x="353.1" y="440.7">Q3</text>
<text x="376.8" y="440.7">Q4</text>
<text x="400.5" y="440.7">Q1</text>
<text x="424.2" y="440.7">Q2</text>
<text x="447.9" y="440.7">Q3</text>
<text x="471.6" y="440.7">Q4</text>
<text x="495.2" y="440.7">Q1</text>
<text x="518.9" y="440.7">Q2</text>
<text x="542.6" y="440.7">Q3</text>
<text x="566.3" y="440.7">Q4</text>
<text x="590.0" y="440.7">Q1</text>
<text x="613.7" y="440.7">Q2</text>
<text x="637.4" y="440.7">Q3</text>
<text x="661.1" y="440.7">Q4</text>
<text x="684.8" y="440.7">Q1</text>
<text x="708.5" y="440.7">Q2</text>
<text x="732.2" y="440.7">Q3</text>
<text x="755.9" y="440.7">Q4</text>
<text x="779.6" y="440.7">Q1</text>
<text x="803.3" y="440.7">Q2</text>
<text x="827.0" y="440.7">Q3</text>
<text x="850.7" y="440.7">Q4</text>
<text x="874.4" y="440.7">Q1</text>
<text x="898.1" y="440.7">Q2</text>
<text x="921.8" y="440.7">Q3</text>
<text x="68.7" y="467.2">2013</text>
<text x="151.7" y="467.2">2014</text>
<text x="246.5" y="467.2">2015</text>
<text x="341.2" y="467.2">2016</text>
<text x="436.0" y="467.2">2017</text>
<text x="530.8" y="467.2">2018</text>
<text x="625.6" y="467.2">2019</text>
<text x="720.3" y="467.2">2020</text>
<text x="815.1" y="467.2">2021</text>
<text x="898.1" y="467.2">2022</text>
<text x="483.4" y="490.7" textLength="50.1" lengthAdjust="spacingAndGlyphs" style="font-size:13px">Quarter</text>
</g>
<g stroke="#7691d4" stroke-width="1.6" stroke-dasharray="4.4,3.72" fill="none">
<line x1="29" y1="302.7" x2="670.5" y2="299.4"/>
<line x1="673.5" y1="251.8" x2="939" y2="249.2"/>
</g>
<line x1="672.8" x2="672.8" y1="185.5" y2="419.0" stroke="#5b7fc7" stroke-width="1.2"/>
<polyline points="45.0,319.2 68.7,320.2 92.4,326.2 116.1,321.5 139.8,322.8 163.5,313.2 187.2,308.8 210.9,306.2 234.6,293.0 258.3,283.2 282.0,285.5 305.7,280.8 329.4,281.2 353.1,270.0 376.8,270.0 400.5,267.8 424.2,271.5 447.9,267.8 471.6,273.8 495.2,285.0 518.9,310.0 542.6,305.0 566.3,309.5 590.0,311.2 613.7,308.8 637.4,297.0 661.1,287.5 684.8,279.5 708.5,285.5 732.2,272.5 755.9,252.0 779.6,239.5 803.3,227.0 827.0,228.5 850.7,222.5 874.4,210.8 898.1,221.2 921.8,253.2" fill="none" stroke="#f20d0d" stroke-width="3.3" stroke-linejoin="round" stroke-linecap="round"/>
<g class="ann">
<text x="263.9" y="334.5" textLength="188.7" lengthAdjust="spacingAndGlyphs">Pre-pandemic average: 23.8%</text>
<text x="540.9" y="231.5" textLength="119.5" lengthAdjust="spacingAndGlyphs">Onset of COVID-19</text>
<text x="540.9" y="251" textLength="62.9" lengthAdjust="spacingAndGlyphs">pandemic</text>
<text x="738.7" y="287" textLength="152.1" lengthAdjust="spacingAndGlyphs">Average since pandemic</text>
<text x="738.7" y="307" textLength="81.7" lengthAdjust="spacingAndGlyphs">onset: 33.7%</text>
</g>
</svg></body></html>
